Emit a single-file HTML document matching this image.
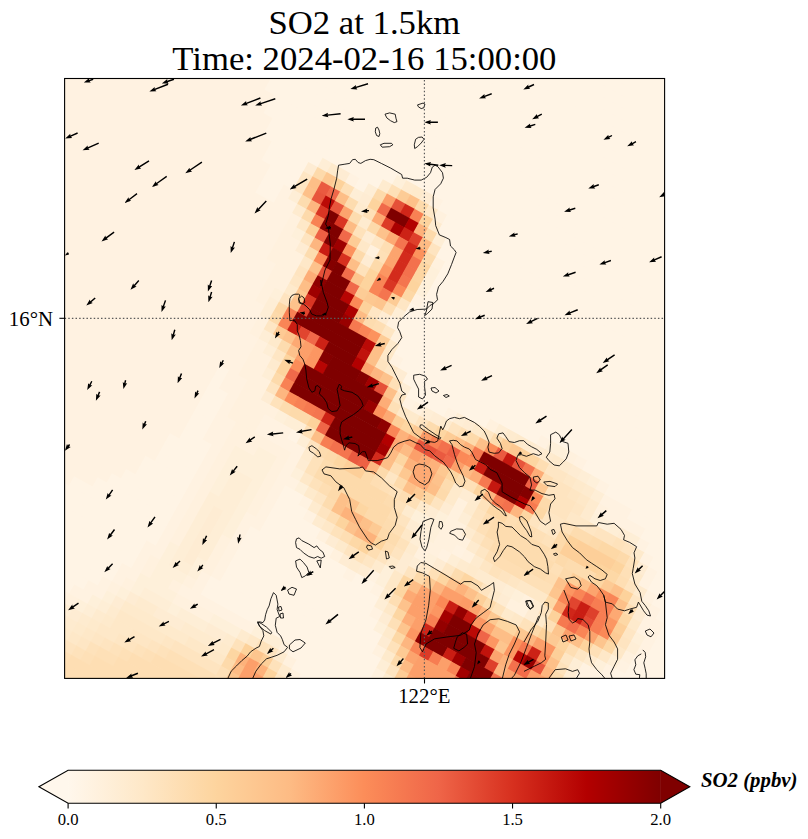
<!DOCTYPE html><html><head><meta charset="utf-8"><style>html,body{margin:0;padding:0;background:#fff;}svg{display:block;}text{font-family:"Liberation Serif",serif;fill:#000;}</style></head><body>
<svg width="808" height="839" viewBox="0 0 808 839">
<defs><clipPath id="mc"><rect x="64.6" y="78.5" width="600.0" height="599.9"/></clipPath><linearGradient id="cb" x1="0" x2="1" y1="0" y2="0"><stop offset="0.000" stop-color="#fff7ec"/><stop offset="0.125" stop-color="#fee8c8"/><stop offset="0.250" stop-color="#fdd49e"/><stop offset="0.375" stop-color="#fdbb84"/><stop offset="0.500" stop-color="#fc8d59"/><stop offset="0.625" stop-color="#ef6548"/><stop offset="0.750" stop-color="#d7301f"/><stop offset="0.875" stop-color="#b30000"/><stop offset="1.000" stop-color="#7f0000"/></linearGradient><filter id="bl" x="-50%" y="-50%" width="200%" height="200%"><feGaussianBlur stdDeviation="14"/></filter></defs>
<rect width="808" height="839" fill="#fff"/>
<g clip-path="url(#mc)">
<rect x="64.6" y="78.5" width="600.0" height="599.9" fill="#fff4e5"/>
<g transform="translate(67.60,76.50) rotate(29.0)"><rect x="504.0" y="-294.0" width="32.1" height="11.1" fill="#fff4e5"/><rect x="483.0" y="-283.5" width="53.1" height="11.1" fill="#fff4e5"/><rect x="462.0" y="-273.0" width="84.6" height="11.1" fill="#fff4e5"/><rect x="451.5" y="-262.5" width="105.6" height="11.1" fill="#fff4e5"/><rect x="430.5" y="-252.0" width="126.6" height="11.1" fill="#fff4e5"/><rect x="409.5" y="-241.5" width="158.1" height="11.1" fill="#fff4e5"/><rect x="388.5" y="-231.0" width="179.1" height="11.1" fill="#fff4e5"/><rect x="367.5" y="-220.5" width="210.6" height="11.1" fill="#fff4e5"/><rect x="357.0" y="-210.0" width="221.1" height="11.1" fill="#fff4e5"/><rect x="336.0" y="-199.5" width="252.6" height="11.1" fill="#fff4e5"/><rect x="315.0" y="-189.0" width="273.6" height="11.1" fill="#fff4e5"/><rect x="294.0" y="-178.5" width="305.1" height="11.1" fill="#fff4e5"/><rect x="273.0" y="-168.0" width="336.6" height="11.1" fill="#fff4e5"/><rect x="252.0" y="-157.5" width="357.6" height="11.1" fill="#fff4e5"/><rect x="241.5" y="-147.0" width="378.6" height="11.1" fill="#fff4e5"/><rect x="220.5" y="-136.5" width="399.6" height="11.1" fill="#fff4e5"/><rect x="199.5" y="-126.0" width="431.1" height="11.1" fill="#fff4e5"/><rect x="178.5" y="-115.5" width="452.1" height="11.1" fill="#fff4e5"/><rect x="157.5" y="-105.0" width="21.6" height="11.1" fill="#fff2e1"/><rect x="178.5" y="-105.0" width="462.6" height="11.1" fill="#fff4e5"/><rect x="147.0" y="-94.5" width="32.1" height="11.1" fill="#fff2e1"/><rect x="178.5" y="-94.5" width="462.6" height="11.1" fill="#fff4e5"/><rect x="126.0" y="-84.0" width="63.6" height="11.1" fill="#fff2e1"/><rect x="189.0" y="-84.0" width="462.6" height="11.1" fill="#fff4e5"/><rect x="105.0" y="-73.5" width="84.6" height="11.1" fill="#fff2e1"/><rect x="189.0" y="-73.5" width="147.6" height="11.1" fill="#fff4e5"/><rect x="336.0" y="-73.5" width="11.1" height="11.1" fill="#fef0da"/><rect x="346.5" y="-73.5" width="11.1" height="11.1" fill="#feebcf"/><rect x="357.0" y="-73.5" width="11.1" height="11.1" fill="#feeacc"/><rect x="367.5" y="-73.5" width="11.1" height="11.1" fill="#feecd3"/><rect x="378.0" y="-73.5" width="11.1" height="11.1" fill="#fff2e1"/><rect x="388.5" y="-73.5" width="273.6" height="11.1" fill="#fff4e5"/><rect x="84.0" y="-63.0" width="116.1" height="11.1" fill="#fff2e1"/><rect x="199.5" y="-63.0" width="126.6" height="11.1" fill="#fff4e5"/><rect x="325.5" y="-63.0" width="11.1" height="11.1" fill="#feebcf"/><rect x="336.0" y="-63.0" width="11.1" height="11.1" fill="#fee0b7"/><rect x="346.5" y="-63.0" width="11.1" height="11.1" fill="#fdcc96"/><rect x="357.0" y="-63.0" width="11.1" height="11.1" fill="#fdc089"/><rect x="367.5" y="-63.0" width="11.1" height="11.1" fill="#fddaab"/><rect x="378.0" y="-63.0" width="11.1" height="11.1" fill="#fee8c8"/><rect x="388.5" y="-63.0" width="11.1" height="11.1" fill="#fff1de"/><rect x="399.0" y="-63.0" width="263.1" height="11.1" fill="#fff4e5"/><rect x="63.0" y="-52.5" width="137.1" height="11.1" fill="#fff2e1"/><rect x="199.5" y="-52.5" width="63.6" height="11.1" fill="#fff4e5"/><rect x="262.5" y="-52.5" width="11.1" height="11.1" fill="#feeed6"/><rect x="273.0" y="-52.5" width="11.1" height="11.1" fill="#feeacc"/><rect x="283.5" y="-52.5" width="11.1" height="11.1" fill="#feecd3"/><rect x="294.0" y="-52.5" width="11.1" height="11.1" fill="#fff2e1"/><rect x="304.5" y="-52.5" width="11.1" height="11.1" fill="#fff4e5"/><rect x="315.0" y="-52.5" width="11.1" height="11.1" fill="#feeed6"/><rect x="325.5" y="-52.5" width="11.1" height="11.1" fill="#fddaab"/><rect x="336.0" y="-52.5" width="11.1" height="11.1" fill="#fc9f6a"/><rect x="346.5" y="-52.5" width="11.1" height="11.1" fill="#e55038"/><rect x="357.0" y="-52.5" width="11.1" height="11.1" fill="#d02619"/><rect x="367.5" y="-52.5" width="11.1" height="11.1" fill="#f88154"/><rect x="378.0" y="-52.5" width="11.1" height="11.1" fill="#fdd49e"/><rect x="388.5" y="-52.5" width="11.1" height="11.1" fill="#feebcf"/><rect x="399.0" y="-52.5" width="273.6" height="11.1" fill="#fff4e5"/><rect x="52.5" y="-42.0" width="158.1" height="11.1" fill="#fff2e1"/><rect x="210.0" y="-42.0" width="42.6" height="11.1" fill="#fff4e5"/><rect x="252.0" y="-42.0" width="11.1" height="11.1" fill="#feecd3"/><rect x="262.5" y="-42.0" width="11.1" height="11.1" fill="#fddaab"/><rect x="273.0" y="-42.0" width="11.1" height="11.1" fill="#fdc891"/><rect x="283.5" y="-42.0" width="11.1" height="11.1" fill="#fdd29b"/><rect x="294.0" y="-42.0" width="11.1" height="11.1" fill="#fee0b7"/><rect x="304.5" y="-42.0" width="11.1" height="11.1" fill="#feeed6"/><rect x="315.0" y="-42.0" width="11.1" height="11.1" fill="#feecd3"/><rect x="325.5" y="-42.0" width="11.1" height="11.1" fill="#fdd49e"/><rect x="336.0" y="-42.0" width="11.1" height="11.1" fill="#f0694a"/><rect x="346.5" y="-42.0" width="21.6" height="11.1" fill="#7f0000"/><rect x="367.5" y="-42.0" width="11.1" height="11.1" fill="#b30000"/><rect x="378.0" y="-42.0" width="11.1" height="11.1" fill="#fdb27b"/><rect x="388.5" y="-42.0" width="11.1" height="11.1" fill="#fddaab"/><rect x="399.0" y="-42.0" width="11.1" height="11.1" fill="#feeed6"/><rect x="409.5" y="-42.0" width="263.1" height="11.1" fill="#fff4e5"/><rect x="31.5" y="-31.5" width="179.1" height="11.1" fill="#fff2e1"/><rect x="210.0" y="-31.5" width="42.6" height="11.1" fill="#fff4e5"/><rect x="252.0" y="-31.5" width="11.1" height="11.1" fill="#fee6c4"/><rect x="262.5" y="-31.5" width="11.1" height="11.1" fill="#fdbe87"/><rect x="273.0" y="-31.5" width="11.1" height="11.1" fill="#ea5a40"/><rect x="283.5" y="-31.5" width="11.1" height="11.1" fill="#f0694a"/><rect x="294.0" y="-31.5" width="11.1" height="11.1" fill="#fdbe87"/><rect x="304.5" y="-31.5" width="11.1" height="11.1" fill="#fddcaf"/><rect x="315.0" y="-31.5" width="11.1" height="11.1" fill="#feebcf"/><rect x="325.5" y="-31.5" width="11.1" height="11.1" fill="#fee0b7"/><rect x="336.0" y="-31.5" width="11.1" height="11.1" fill="#fda973"/><rect x="346.5" y="-31.5" width="11.1" height="11.1" fill="#dc3b27"/><rect x="357.0" y="-31.5" width="11.1" height="11.1" fill="#a90000"/><rect x="367.5" y="-31.5" width="11.1" height="11.1" fill="#cc2216"/><rect x="378.0" y="-31.5" width="11.1" height="11.1" fill="#de402b"/><rect x="388.5" y="-31.5" width="11.1" height="11.1" fill="#fdbb84"/><rect x="399.0" y="-31.5" width="11.1" height="11.1" fill="#fee4c0"/><rect x="409.5" y="-31.5" width="273.6" height="11.1" fill="#fff4e5"/><rect x="10.5" y="-21.0" width="210.6" height="11.1" fill="#fff2e1"/><rect x="220.5" y="-21.0" width="32.1" height="11.1" fill="#fff4e5"/><rect x="252.0" y="-21.0" width="11.1" height="11.1" fill="#fee6c4"/><rect x="262.5" y="-21.0" width="11.1" height="11.1" fill="#fdc089"/><rect x="273.0" y="-21.0" width="11.1" height="11.1" fill="#e8553c"/><rect x="283.5" y="-21.0" width="11.1" height="11.1" fill="#ba0a06"/><rect x="294.0" y="-21.0" width="11.1" height="11.1" fill="#e8553c"/><rect x="304.5" y="-21.0" width="11.1" height="11.1" fill="#fca46e"/><rect x="315.0" y="-21.0" width="11.1" height="11.1" fill="#fddcaf"/><rect x="325.5" y="-21.0" width="11.1" height="11.1" fill="#feebcf"/><rect x="336.0" y="-21.0" width="11.1" height="11.1" fill="#fddaab"/><rect x="346.5" y="-21.0" width="11.1" height="11.1" fill="#fdc28c"/><rect x="357.0" y="-21.0" width="11.1" height="11.1" fill="#fda973"/><rect x="367.5" y="-21.0" width="11.1" height="11.1" fill="#f4754f"/><rect x="378.0" y="-21.0" width="11.1" height="11.1" fill="#d02619"/><rect x="388.5" y="-21.0" width="11.1" height="11.1" fill="#fc925d"/><rect x="399.0" y="-21.0" width="11.1" height="11.1" fill="#fddcaf"/><rect x="409.5" y="-21.0" width="11.1" height="11.1" fill="#fff1de"/><rect x="420.0" y="-21.0" width="263.1" height="11.1" fill="#fff4e5"/><rect x="-10.5" y="-10.5" width="231.6" height="11.1" fill="#fff2e1"/><rect x="220.5" y="-10.5" width="21.6" height="11.1" fill="#fff4e5"/><rect x="241.5" y="-10.5" width="11.1" height="11.1" fill="#fff2e1"/><rect x="252.0" y="-10.5" width="11.1" height="11.1" fill="#feeed6"/><rect x="262.5" y="-10.5" width="11.1" height="11.1" fill="#fddcaf"/><rect x="273.0" y="-10.5" width="11.1" height="11.1" fill="#fdb680"/><rect x="283.5" y="-10.5" width="11.1" height="11.1" fill="#d93523"/><rect x="294.0" y="-10.5" width="11.1" height="11.1" fill="#7f0000"/><rect x="304.5" y="-10.5" width="11.1" height="11.1" fill="#d93523"/><rect x="315.0" y="-10.5" width="11.1" height="11.1" fill="#fdbb84"/><rect x="325.5" y="-10.5" width="11.1" height="11.1" fill="#fee2bb"/><rect x="336.0" y="-10.5" width="11.1" height="11.1" fill="#feecd3"/><rect x="346.5" y="-10.5" width="11.1" height="11.1" fill="#fee6c4"/><rect x="357.0" y="-10.5" width="11.1" height="11.1" fill="#fedeb3"/><rect x="367.5" y="-10.5" width="11.1" height="11.1" fill="#fca46e"/><rect x="378.0" y="-10.5" width="11.1" height="11.1" fill="#d32b1c"/><rect x="388.5" y="-10.5" width="11.1" height="11.1" fill="#f3714d"/><rect x="399.0" y="-10.5" width="11.1" height="11.1" fill="#fdd6a2"/><rect x="409.5" y="-10.5" width="11.1" height="11.1" fill="#fef0da"/><rect x="420.0" y="-10.5" width="273.6" height="11.1" fill="#fff4e5"/><rect x="-10.5" y="0.0" width="231.6" height="11.1" fill="#fff2e1"/><rect x="220.5" y="0.0" width="21.6" height="11.1" fill="#fff4e5"/><rect x="241.5" y="0.0" width="21.6" height="11.1" fill="#fff2e1"/><rect x="262.5" y="0.0" width="11.1" height="11.1" fill="#feebcf"/><rect x="273.0" y="0.0" width="11.1" height="11.1" fill="#fddaab"/><rect x="283.5" y="0.0" width="11.1" height="11.1" fill="#f88154"/><rect x="294.0" y="0.0" width="11.1" height="11.1" fill="#840000"/><rect x="304.5" y="0.0" width="11.1" height="11.1" fill="#7f0000"/><rect x="315.0" y="0.0" width="11.1" height="11.1" fill="#f0694a"/><rect x="325.5" y="0.0" width="11.1" height="11.1" fill="#fdcc96"/><rect x="336.0" y="0.0" width="11.1" height="11.1" fill="#fee8c8"/><rect x="346.5" y="0.0" width="11.1" height="11.1" fill="#fff1de"/><rect x="357.0" y="0.0" width="11.1" height="11.1" fill="#fee0b7"/><rect x="367.5" y="0.0" width="11.1" height="11.1" fill="#fca46e"/><rect x="378.0" y="0.0" width="11.1" height="11.1" fill="#d32b1c"/><rect x="388.5" y="0.0" width="11.1" height="11.1" fill="#f3714d"/><rect x="399.0" y="0.0" width="11.1" height="11.1" fill="#fdd6a2"/><rect x="409.5" y="0.0" width="11.1" height="11.1" fill="#fef0da"/><rect x="420.0" y="0.0" width="273.6" height="11.1" fill="#fff4e5"/><rect x="-10.5" y="10.5" width="273.6" height="11.1" fill="#fff2e1"/><rect x="262.5" y="10.5" width="11.1" height="11.1" fill="#fff1de"/><rect x="273.0" y="10.5" width="11.1" height="11.1" fill="#fee8c8"/><rect x="283.5" y="10.5" width="11.1" height="11.1" fill="#fdcf99"/><rect x="294.0" y="10.5" width="11.1" height="11.1" fill="#ed6044"/><rect x="304.5" y="10.5" width="11.1" height="11.1" fill="#7f0000"/><rect x="315.0" y="10.5" width="11.1" height="11.1" fill="#9e0000"/><rect x="325.5" y="10.5" width="11.1" height="11.1" fill="#fc925d"/><rect x="336.0" y="10.5" width="11.1" height="11.1" fill="#fddaab"/><rect x="346.5" y="10.5" width="11.1" height="11.1" fill="#feecd3"/><rect x="357.0" y="10.5" width="11.1" height="11.1" fill="#fddaab"/><rect x="367.5" y="10.5" width="11.1" height="11.1" fill="#fc9662"/><rect x="378.0" y="10.5" width="11.1" height="11.1" fill="#d32b1c"/><rect x="388.5" y="10.5" width="11.1" height="11.1" fill="#f4754f"/><rect x="399.0" y="10.5" width="11.1" height="11.1" fill="#fdd49e"/><rect x="409.5" y="10.5" width="11.1" height="11.1" fill="#fef0da"/><rect x="420.0" y="10.5" width="284.1" height="11.1" fill="#fff4e5"/><rect x="0.0" y="21.0" width="263.1" height="11.1" fill="#fff2e1"/><rect x="262.5" y="21.0" width="11.1" height="11.1" fill="#fff1de"/><rect x="273.0" y="21.0" width="11.1" height="11.1" fill="#fef0da"/><rect x="283.5" y="21.0" width="11.1" height="11.1" fill="#fee4c0"/><rect x="294.0" y="21.0" width="11.1" height="11.1" fill="#fdb680"/><rect x="304.5" y="21.0" width="11.1" height="11.1" fill="#c91d13"/><rect x="315.0" y="21.0" width="11.1" height="11.1" fill="#7f0000"/><rect x="325.5" y="21.0" width="11.1" height="11.1" fill="#d7301f"/><rect x="336.0" y="21.0" width="11.1" height="11.1" fill="#fdbe87"/><rect x="346.5" y="21.0" width="11.1" height="11.1" fill="#fee2bb"/><rect x="357.0" y="21.0" width="11.1" height="11.1" fill="#fdd49e"/><rect x="367.5" y="21.0" width="11.1" height="11.1" fill="#f98556"/><rect x="378.0" y="21.0" width="11.1" height="11.1" fill="#d93523"/><rect x="388.5" y="21.0" width="11.1" height="11.1" fill="#fb8957"/><rect x="399.0" y="21.0" width="11.1" height="11.1" fill="#fdd8a6"/><rect x="409.5" y="21.0" width="11.1" height="11.1" fill="#fff2e1"/><rect x="420.0" y="21.0" width="294.6" height="11.1" fill="#fff4e5"/><rect x="0.0" y="31.5" width="263.1" height="11.1" fill="#fff2e1"/><rect x="262.5" y="31.5" width="21.6" height="11.1" fill="#fff1de"/><rect x="283.5" y="31.5" width="11.1" height="11.1" fill="#feecd3"/><rect x="294.0" y="31.5" width="11.1" height="11.1" fill="#fddcaf"/><rect x="304.5" y="31.5" width="11.1" height="11.1" fill="#fb8957"/><rect x="315.0" y="31.5" width="11.1" height="11.1" fill="#840000"/><rect x="325.5" y="31.5" width="11.1" height="11.1" fill="#7f0000"/><rect x="336.0" y="31.5" width="11.1" height="11.1" fill="#f26d4b"/><rect x="346.5" y="31.5" width="11.1" height="11.1" fill="#fdc58e"/><rect x="357.0" y="31.5" width="11.1" height="11.1" fill="#fdd49e"/><rect x="367.5" y="31.5" width="11.1" height="11.1" fill="#f98556"/><rect x="378.0" y="31.5" width="11.1" height="11.1" fill="#f4754f"/><rect x="388.5" y="31.5" width="11.1" height="11.1" fill="#fdcc96"/><rect x="399.0" y="31.5" width="11.1" height="11.1" fill="#fee6c4"/><rect x="409.5" y="31.5" width="305.1" height="11.1" fill="#fff4e5"/><rect x="10.5" y="42.0" width="252.6" height="11.1" fill="#fff2e1"/><rect x="262.5" y="42.0" width="32.1" height="11.1" fill="#fff1de"/><rect x="294.0" y="42.0" width="11.1" height="11.1" fill="#fee8c8"/><rect x="304.5" y="42.0" width="11.1" height="11.1" fill="#fdc28c"/><rect x="315.0" y="42.0" width="11.1" height="11.1" fill="#e55038"/><rect x="325.5" y="42.0" width="21.6" height="11.1" fill="#7f0000"/><rect x="346.5" y="42.0" width="11.1" height="11.1" fill="#f0694a"/><rect x="357.0" y="42.0" width="11.1" height="11.1" fill="#fdcc96"/><rect x="367.5" y="42.0" width="11.1" height="11.1" fill="#fdc891"/><rect x="378.0" y="42.0" width="11.1" height="11.1" fill="#fdc58e"/><rect x="388.5" y="42.0" width="11.1" height="11.1" fill="#fedeb3"/><rect x="399.0" y="42.0" width="11.1" height="11.1" fill="#feeed6"/><rect x="409.5" y="42.0" width="315.6" height="11.1" fill="#fff4e5"/><rect x="21.0" y="52.5" width="242.1" height="11.1" fill="#fff2e1"/><rect x="262.5" y="52.5" width="32.1" height="11.1" fill="#fff1de"/><rect x="294.0" y="52.5" width="11.1" height="11.1" fill="#fee4c0"/><rect x="304.5" y="52.5" width="11.1" height="11.1" fill="#fdad77"/><rect x="315.0" y="52.5" width="11.1" height="11.1" fill="#8f0000"/><rect x="325.5" y="52.5" width="21.6" height="11.1" fill="#7f0000"/><rect x="346.5" y="52.5" width="11.1" height="11.1" fill="#b70503"/><rect x="357.0" y="52.5" width="11.1" height="11.1" fill="#fb8957"/><rect x="367.5" y="52.5" width="11.1" height="11.1" fill="#fdd29b"/><rect x="378.0" y="52.5" width="11.1" height="11.1" fill="#fee6c4"/><rect x="388.5" y="52.5" width="11.1" height="11.1" fill="#feecd3"/><rect x="399.0" y="52.5" width="11.1" height="11.1" fill="#fff2e1"/><rect x="409.5" y="52.5" width="315.6" height="11.1" fill="#fff4e5"/><rect x="21.0" y="63.0" width="252.6" height="11.1" fill="#fff2e1"/><rect x="273.0" y="63.0" width="21.6" height="11.1" fill="#fff1de"/><rect x="294.0" y="63.0" width="11.1" height="11.1" fill="#fee6c4"/><rect x="304.5" y="63.0" width="11.1" height="11.1" fill="#fdbe87"/><rect x="315.0" y="63.0" width="11.1" height="11.1" fill="#9e0000"/><rect x="325.5" y="63.0" width="32.1" height="11.1" fill="#7f0000"/><rect x="357.0" y="63.0" width="11.1" height="11.1" fill="#ae0000"/><rect x="367.5" y="63.0" width="11.1" height="11.1" fill="#fdbb84"/><rect x="378.0" y="63.0" width="11.1" height="11.1" fill="#fddcaf"/><rect x="388.5" y="63.0" width="11.1" height="11.1" fill="#fedeb3"/><rect x="399.0" y="63.0" width="11.1" height="11.1" fill="#fee6c4"/><rect x="409.5" y="63.0" width="11.1" height="11.1" fill="#fff1de"/><rect x="420.0" y="63.0" width="315.6" height="11.1" fill="#fff4e5"/><rect x="31.5" y="73.5" width="242.1" height="11.1" fill="#fff2e1"/><rect x="273.0" y="73.5" width="21.6" height="11.1" fill="#fff1de"/><rect x="294.0" y="73.5" width="11.1" height="11.1" fill="#feeacc"/><rect x="304.5" y="73.5" width="11.1" height="11.1" fill="#fdc891"/><rect x="315.0" y="73.5" width="11.1" height="11.1" fill="#d93523"/><rect x="325.5" y="73.5" width="32.1" height="11.1" fill="#7f0000"/><rect x="357.0" y="73.5" width="11.1" height="11.1" fill="#990000"/><rect x="367.5" y="73.5" width="11.1" height="11.1" fill="#f67950"/><rect x="378.0" y="73.5" width="11.1" height="11.1" fill="#f98556"/><rect x="388.5" y="73.5" width="11.1" height="11.1" fill="#fc925d"/><rect x="399.0" y="73.5" width="11.1" height="11.1" fill="#fdcc96"/><rect x="409.5" y="73.5" width="11.1" height="11.1" fill="#feeacc"/><rect x="420.0" y="73.5" width="315.6" height="11.1" fill="#fff4e5"/><rect x="31.5" y="84.0" width="242.1" height="11.1" fill="#fff2e1"/><rect x="273.0" y="84.0" width="11.1" height="11.1" fill="#fff1de"/><rect x="283.5" y="84.0" width="11.1" height="11.1" fill="#fef0da"/><rect x="294.0" y="84.0" width="11.1" height="11.1" fill="#fee4c0"/><rect x="304.5" y="84.0" width="11.1" height="11.1" fill="#fdc28c"/><rect x="315.0" y="84.0" width="11.1" height="11.1" fill="#e1452f"/><rect x="325.5" y="84.0" width="63.6" height="11.1" fill="#7f0000"/><rect x="388.5" y="84.0" width="11.1" height="11.1" fill="#ba0a06"/><rect x="399.0" y="84.0" width="11.1" height="11.1" fill="#fdc089"/><rect x="409.5" y="84.0" width="11.1" height="11.1" fill="#fee8c8"/><rect x="420.0" y="84.0" width="11.1" height="11.1" fill="#fff2e1"/><rect x="430.5" y="84.0" width="158.1" height="11.1" fill="#fff4e5"/><rect x="588.0" y="84.0" width="11.1" height="11.1" fill="#fff2e1"/><rect x="598.5" y="84.0" width="21.6" height="11.1" fill="#fef0da"/><rect x="619.5" y="84.0" width="11.1" height="11.1" fill="#fff1de"/><rect x="630.0" y="84.0" width="11.1" height="11.1" fill="#fff2e1"/><rect x="640.5" y="84.0" width="105.6" height="11.1" fill="#fff4e5"/><rect x="42.0" y="94.5" width="231.6" height="11.1" fill="#fff2e1"/><rect x="273.0" y="94.5" width="11.1" height="11.1" fill="#fff1de"/><rect x="283.5" y="94.5" width="11.1" height="11.1" fill="#feeed6"/><rect x="294.0" y="94.5" width="11.1" height="11.1" fill="#fdd8a6"/><rect x="304.5" y="94.5" width="11.1" height="11.1" fill="#f88154"/><rect x="315.0" y="94.5" width="74.1" height="11.1" fill="#7f0000"/><rect x="388.5" y="94.5" width="11.1" height="11.1" fill="#c1130c"/><rect x="399.0" y="94.5" width="11.1" height="11.1" fill="#fdc089"/><rect x="409.5" y="94.5" width="11.1" height="11.1" fill="#fee4c0"/><rect x="420.0" y="94.5" width="11.1" height="11.1" fill="#fee8c8"/><rect x="430.5" y="94.5" width="11.1" height="11.1" fill="#feecd3"/><rect x="441.0" y="94.5" width="95.1" height="11.1" fill="#fff4e5"/><rect x="535.5" y="94.5" width="11.1" height="11.1" fill="#fff1de"/><rect x="546.0" y="94.5" width="11.1" height="11.1" fill="#feeed6"/><rect x="556.5" y="94.5" width="11.1" height="11.1" fill="#feebcf"/><rect x="567.0" y="94.5" width="11.1" height="11.1" fill="#feeacc"/><rect x="577.5" y="94.5" width="11.1" height="11.1" fill="#feebcf"/><rect x="588.0" y="94.5" width="11.1" height="11.1" fill="#feecd3"/><rect x="598.5" y="94.5" width="11.1" height="11.1" fill="#feebcf"/><rect x="609.0" y="94.5" width="11.1" height="11.1" fill="#feeacc"/><rect x="619.5" y="94.5" width="11.1" height="11.1" fill="#feebcf"/><rect x="630.0" y="94.5" width="11.1" height="11.1" fill="#feecd3"/><rect x="640.5" y="94.5" width="11.1" height="11.1" fill="#feeed6"/><rect x="651.0" y="94.5" width="11.1" height="11.1" fill="#fef0da"/><rect x="661.5" y="94.5" width="11.1" height="11.1" fill="#fff2e1"/><rect x="672.0" y="94.5" width="74.1" height="11.1" fill="#fff4e5"/><rect x="42.0" y="105.0" width="242.1" height="11.1" fill="#fff2e1"/><rect x="283.5" y="105.0" width="11.1" height="11.1" fill="#feeed6"/><rect x="294.0" y="105.0" width="11.1" height="11.1" fill="#fddaab"/><rect x="304.5" y="105.0" width="11.1" height="11.1" fill="#f98556"/><rect x="315.0" y="105.0" width="11.1" height="11.1" fill="#c91d13"/><rect x="325.5" y="105.0" width="11.1" height="11.1" fill="#e1452f"/><rect x="336.0" y="105.0" width="11.1" height="11.1" fill="#f0694a"/><rect x="346.5" y="105.0" width="11.1" height="11.1" fill="#cc2216"/><rect x="357.0" y="105.0" width="32.1" height="11.1" fill="#7f0000"/><rect x="388.5" y="105.0" width="11.1" height="11.1" fill="#b30000"/><rect x="399.0" y="105.0" width="11.1" height="11.1" fill="#fca46e"/><rect x="409.5" y="105.0" width="11.1" height="11.1" fill="#fdb680"/><rect x="420.0" y="105.0" width="11.1" height="11.1" fill="#fdc28c"/><rect x="430.5" y="105.0" width="11.1" height="11.1" fill="#fee0b7"/><rect x="441.0" y="105.0" width="11.1" height="11.1" fill="#feeed6"/><rect x="451.5" y="105.0" width="42.6" height="11.1" fill="#fff4e5"/><rect x="493.5" y="105.0" width="11.1" height="11.1" fill="#fff2e1"/><rect x="504.0" y="105.0" width="11.1" height="11.1" fill="#feeed6"/><rect x="514.5" y="105.0" width="11.1" height="11.1" fill="#feecd3"/><rect x="525.0" y="105.0" width="11.1" height="11.1" fill="#feeacc"/><rect x="535.5" y="105.0" width="11.1" height="11.1" fill="#fee6c4"/><rect x="546.0" y="105.0" width="11.1" height="11.1" fill="#fddcaf"/><rect x="556.5" y="105.0" width="11.1" height="11.1" fill="#fdcf99"/><rect x="567.0" y="105.0" width="11.1" height="11.1" fill="#fdc891"/><rect x="577.5" y="105.0" width="11.1" height="11.1" fill="#fdd29b"/><rect x="588.0" y="105.0" width="11.1" height="11.1" fill="#fdd6a2"/><rect x="598.5" y="105.0" width="11.1" height="11.1" fill="#fedeb3"/><rect x="609.0" y="105.0" width="21.6" height="11.1" fill="#fee6c4"/><rect x="630.0" y="105.0" width="11.1" height="11.1" fill="#fee8c8"/><rect x="640.5" y="105.0" width="11.1" height="11.1" fill="#feeacc"/><rect x="651.0" y="105.0" width="11.1" height="11.1" fill="#feebcf"/><rect x="661.5" y="105.0" width="11.1" height="11.1" fill="#feeed6"/><rect x="672.0" y="105.0" width="32.1" height="11.1" fill="#fff2e1"/><rect x="703.5" y="105.0" width="53.1" height="11.1" fill="#fff4e5"/><rect x="52.5" y="115.5" width="231.6" height="11.1" fill="#fff2e1"/><rect x="283.5" y="115.5" width="11.1" height="11.1" fill="#fff1de"/><rect x="294.0" y="115.5" width="11.1" height="11.1" fill="#fee6c4"/><rect x="304.5" y="115.5" width="11.1" height="11.1" fill="#fdca94"/><rect x="315.0" y="115.5" width="11.1" height="11.1" fill="#fdc28c"/><rect x="325.5" y="115.5" width="11.1" height="11.1" fill="#fda973"/><rect x="336.0" y="115.5" width="11.1" height="11.1" fill="#fc9f6a"/><rect x="346.5" y="115.5" width="11.1" height="11.1" fill="#fc9662"/><rect x="357.0" y="115.5" width="11.1" height="11.1" fill="#840000"/><rect x="367.5" y="115.5" width="32.1" height="11.1" fill="#7f0000"/><rect x="399.0" y="115.5" width="11.1" height="11.1" fill="#840000"/><rect x="409.5" y="115.5" width="11.1" height="11.1" fill="#a30000"/><rect x="420.0" y="115.5" width="11.1" height="11.1" fill="#e55038"/><rect x="430.5" y="115.5" width="11.1" height="11.1" fill="#fdc089"/><rect x="441.0" y="115.5" width="11.1" height="11.1" fill="#fee6c4"/><rect x="451.5" y="115.5" width="11.1" height="11.1" fill="#fff2e1"/><rect x="462.0" y="115.5" width="11.1" height="11.1" fill="#fff1de"/><rect x="472.5" y="115.5" width="11.1" height="11.1" fill="#feeed6"/><rect x="483.0" y="115.5" width="11.1" height="11.1" fill="#feecd3"/><rect x="493.5" y="115.5" width="11.1" height="11.1" fill="#feebcf"/><rect x="504.0" y="115.5" width="11.1" height="11.1" fill="#fee4c0"/><rect x="514.5" y="115.5" width="11.1" height="11.1" fill="#fee0b7"/><rect x="525.0" y="115.5" width="11.1" height="11.1" fill="#fddaab"/><rect x="535.5" y="115.5" width="11.1" height="11.1" fill="#fdc089"/><rect x="546.0" y="115.5" width="11.1" height="11.1" fill="#fc8d59"/><rect x="556.5" y="115.5" width="11.1" height="11.1" fill="#ea5a40"/><rect x="567.0" y="115.5" width="11.1" height="11.1" fill="#c51810"/><rect x="577.5" y="115.5" width="11.1" height="11.1" fill="#e8553c"/><rect x="588.0" y="115.5" width="11.1" height="11.1" fill="#f4754f"/><rect x="598.5" y="115.5" width="11.1" height="11.1" fill="#fdad77"/><rect x="609.0" y="115.5" width="11.1" height="11.1" fill="#fedeb3"/><rect x="619.5" y="115.5" width="21.6" height="11.1" fill="#fee4c0"/><rect x="640.5" y="115.5" width="11.1" height="11.1" fill="#fee6c4"/><rect x="651.0" y="115.5" width="11.1" height="11.1" fill="#fee8c8"/><rect x="661.5" y="115.5" width="11.1" height="11.1" fill="#feebcf"/><rect x="672.0" y="115.5" width="11.1" height="11.1" fill="#fff1de"/><rect x="682.5" y="115.5" width="42.6" height="11.1" fill="#fff2e1"/><rect x="724.5" y="115.5" width="42.6" height="11.1" fill="#fff4e5"/><rect x="52.5" y="126.0" width="231.6" height="11.1" fill="#fff2e1"/><rect x="283.5" y="126.0" width="11.1" height="11.1" fill="#fff1de"/><rect x="294.0" y="126.0" width="11.1" height="11.1" fill="#feeed6"/><rect x="304.5" y="126.0" width="11.1" height="11.1" fill="#feeacc"/><rect x="315.0" y="126.0" width="11.1" height="11.1" fill="#fddcaf"/><rect x="325.5" y="126.0" width="11.1" height="11.1" fill="#fdc28c"/><rect x="336.0" y="126.0" width="11.1" height="11.1" fill="#fc9f6a"/><rect x="346.5" y="126.0" width="11.1" height="11.1" fill="#fc9662"/><rect x="357.0" y="126.0" width="11.1" height="11.1" fill="#b70503"/><rect x="367.5" y="126.0" width="63.6" height="11.1" fill="#7f0000"/><rect x="430.5" y="126.0" width="11.1" height="11.1" fill="#fdad77"/><rect x="441.0" y="126.0" width="11.1" height="11.1" fill="#fee0b7"/><rect x="451.5" y="126.0" width="11.1" height="11.1" fill="#fee8c8"/><rect x="462.0" y="126.0" width="11.1" height="11.1" fill="#feeacc"/><rect x="472.5" y="126.0" width="11.1" height="11.1" fill="#fee4c0"/><rect x="483.0" y="126.0" width="11.1" height="11.1" fill="#fddcaf"/><rect x="493.5" y="126.0" width="11.1" height="11.1" fill="#fdd6a2"/><rect x="504.0" y="126.0" width="11.1" height="11.1" fill="#fdcc96"/><rect x="514.5" y="126.0" width="11.1" height="11.1" fill="#fdc089"/><rect x="525.0" y="126.0" width="11.1" height="11.1" fill="#fdb27b"/><rect x="535.5" y="126.0" width="11.1" height="11.1" fill="#f67950"/><rect x="546.0" y="126.0" width="53.1" height="11.1" fill="#7f0000"/><rect x="598.5" y="126.0" width="11.1" height="11.1" fill="#ed6044"/><rect x="609.0" y="126.0" width="11.1" height="11.1" fill="#fdc891"/><rect x="619.5" y="126.0" width="32.1" height="11.1" fill="#fee4c0"/><rect x="651.0" y="126.0" width="11.1" height="11.1" fill="#fee6c4"/><rect x="661.5" y="126.0" width="11.1" height="11.1" fill="#feebcf"/><rect x="672.0" y="126.0" width="21.6" height="11.1" fill="#fef0da"/><rect x="693.0" y="126.0" width="11.1" height="11.1" fill="#feeed6"/><rect x="703.5" y="126.0" width="11.1" height="11.1" fill="#feecd3"/><rect x="714.0" y="126.0" width="11.1" height="11.1" fill="#feeed6"/><rect x="724.5" y="126.0" width="11.1" height="11.1" fill="#fff2e1"/><rect x="735.0" y="126.0" width="32.1" height="11.1" fill="#fff4e5"/><rect x="63.0" y="136.5" width="231.6" height="11.1" fill="#fff2e1"/><rect x="294.0" y="136.5" width="11.1" height="11.1" fill="#fff1de"/><rect x="304.5" y="136.5" width="11.1" height="11.1" fill="#feeed6"/><rect x="315.0" y="136.5" width="11.1" height="11.1" fill="#fee6c4"/><rect x="325.5" y="136.5" width="11.1" height="11.1" fill="#fdd49e"/><rect x="336.0" y="136.5" width="11.1" height="11.1" fill="#fc8d59"/><rect x="346.5" y="136.5" width="74.1" height="11.1" fill="#7f0000"/><rect x="420.0" y="136.5" width="11.1" height="11.1" fill="#990000"/><rect x="430.5" y="136.5" width="11.1" height="11.1" fill="#fc925d"/><rect x="441.0" y="136.5" width="11.1" height="11.1" fill="#fda973"/><rect x="451.5" y="136.5" width="11.1" height="11.1" fill="#fdcf99"/><rect x="462.0" y="136.5" width="11.1" height="11.1" fill="#fdd6a2"/><rect x="472.5" y="136.5" width="11.1" height="11.1" fill="#fdca94"/><rect x="483.0" y="136.5" width="11.1" height="11.1" fill="#fc9b66"/><rect x="493.5" y="136.5" width="11.1" height="11.1" fill="#f88154"/><rect x="504.0" y="136.5" width="11.1" height="11.1" fill="#f3714d"/><rect x="514.5" y="136.5" width="11.1" height="11.1" fill="#ed6044"/><rect x="525.0" y="136.5" width="11.1" height="11.1" fill="#fb8957"/><rect x="535.5" y="136.5" width="11.1" height="11.1" fill="#fc8d59"/><rect x="546.0" y="136.5" width="11.1" height="11.1" fill="#c91d13"/><rect x="556.5" y="136.5" width="42.6" height="11.1" fill="#7f0000"/><rect x="598.5" y="136.5" width="11.1" height="11.1" fill="#840000"/><rect x="609.0" y="136.5" width="11.1" height="11.1" fill="#fb8957"/><rect x="619.5" y="136.5" width="11.1" height="11.1" fill="#fddaab"/><rect x="630.0" y="136.5" width="21.6" height="11.1" fill="#fee4c0"/><rect x="651.0" y="136.5" width="21.6" height="11.1" fill="#fee8c8"/><rect x="672.0" y="136.5" width="11.1" height="11.1" fill="#fee6c4"/><rect x="682.5" y="136.5" width="21.6" height="11.1" fill="#fee4c0"/><rect x="703.5" y="136.5" width="11.1" height="11.1" fill="#fee2bb"/><rect x="714.0" y="136.5" width="11.1" height="11.1" fill="#fee4c0"/><rect x="724.5" y="136.5" width="11.1" height="11.1" fill="#feeacc"/><rect x="735.0" y="136.5" width="11.1" height="11.1" fill="#fff2e1"/><rect x="745.5" y="136.5" width="32.1" height="11.1" fill="#fff4e5"/><rect x="73.5" y="147.0" width="221.1" height="11.1" fill="#fff2e1"/><rect x="294.0" y="147.0" width="21.6" height="11.1" fill="#fff1de"/><rect x="315.0" y="147.0" width="11.1" height="11.1" fill="#feebcf"/><rect x="325.5" y="147.0" width="11.1" height="11.1" fill="#fdd49e"/><rect x="336.0" y="147.0" width="11.1" height="11.1" fill="#f0694a"/><rect x="346.5" y="147.0" width="95.1" height="11.1" fill="#7f0000"/><rect x="441.0" y="147.0" width="11.1" height="11.1" fill="#8f0000"/><rect x="451.5" y="147.0" width="11.1" height="11.1" fill="#f98556"/><rect x="462.0" y="147.0" width="11.1" height="11.1" fill="#fdb27b"/><rect x="472.5" y="147.0" width="11.1" height="11.1" fill="#fc9f6a"/><rect x="483.0" y="147.0" width="11.1" height="11.1" fill="#e8553c"/><rect x="493.5" y="147.0" width="11.1" height="11.1" fill="#e55038"/><rect x="504.0" y="147.0" width="11.1" height="11.1" fill="#ea5a40"/><rect x="514.5" y="147.0" width="11.1" height="11.1" fill="#f0694a"/><rect x="525.0" y="147.0" width="11.1" height="11.1" fill="#fc9f6a"/><rect x="535.5" y="147.0" width="11.1" height="11.1" fill="#fdbb84"/><rect x="546.0" y="147.0" width="11.1" height="11.1" fill="#fdad77"/><rect x="556.5" y="147.0" width="11.1" height="11.1" fill="#f67950"/><rect x="567.0" y="147.0" width="11.1" height="11.1" fill="#c51810"/><rect x="577.5" y="147.0" width="21.6" height="11.1" fill="#7f0000"/><rect x="598.5" y="147.0" width="11.1" height="11.1" fill="#ae0000"/><rect x="609.0" y="147.0" width="11.1" height="11.1" fill="#f67950"/><rect x="619.5" y="147.0" width="11.1" height="11.1" fill="#fdd8a6"/><rect x="630.0" y="147.0" width="21.6" height="11.1" fill="#fee6c4"/><rect x="651.0" y="147.0" width="11.1" height="11.1" fill="#fee2bb"/><rect x="661.5" y="147.0" width="21.6" height="11.1" fill="#fddcaf"/><rect x="682.5" y="147.0" width="11.1" height="11.1" fill="#fddaab"/><rect x="693.0" y="147.0" width="21.6" height="11.1" fill="#fdd8a6"/><rect x="714.0" y="147.0" width="11.1" height="11.1" fill="#fddaab"/><rect x="724.5" y="147.0" width="11.1" height="11.1" fill="#fee2bb"/><rect x="735.0" y="147.0" width="11.1" height="11.1" fill="#feecd3"/><rect x="745.5" y="147.0" width="11.1" height="11.1" fill="#fff2e1"/><rect x="756.0" y="147.0" width="21.6" height="11.1" fill="#fff4e5"/><rect x="73.5" y="157.5" width="221.1" height="11.1" fill="#fff2e1"/><rect x="294.0" y="157.5" width="21.6" height="11.1" fill="#fff1de"/><rect x="315.0" y="157.5" width="11.1" height="11.1" fill="#feeed6"/><rect x="325.5" y="157.5" width="11.1" height="11.1" fill="#fddaab"/><rect x="336.0" y="157.5" width="11.1" height="11.1" fill="#f88154"/><rect x="346.5" y="157.5" width="105.6" height="11.1" fill="#7f0000"/><rect x="451.5" y="157.5" width="11.1" height="11.1" fill="#b30000"/><rect x="462.0" y="157.5" width="11.1" height="11.1" fill="#fda973"/><rect x="472.5" y="157.5" width="11.1" height="11.1" fill="#fdbb84"/><rect x="483.0" y="157.5" width="11.1" height="11.1" fill="#fc9f6a"/><rect x="493.5" y="157.5" width="11.1" height="11.1" fill="#fda973"/><rect x="504.0" y="157.5" width="11.1" height="11.1" fill="#fdb27b"/><rect x="514.5" y="157.5" width="11.1" height="11.1" fill="#fdc891"/><rect x="525.0" y="157.5" width="11.1" height="11.1" fill="#fdd6a2"/><rect x="535.5" y="157.5" width="11.1" height="11.1" fill="#fddcaf"/><rect x="546.0" y="157.5" width="11.1" height="11.1" fill="#fee0b7"/><rect x="556.5" y="157.5" width="11.1" height="11.1" fill="#fdd49e"/><rect x="567.0" y="157.5" width="11.1" height="11.1" fill="#fdb680"/><rect x="577.5" y="157.5" width="11.1" height="11.1" fill="#f67950"/><rect x="588.0" y="157.5" width="11.1" height="11.1" fill="#f3714d"/><rect x="598.5" y="157.5" width="11.1" height="11.1" fill="#fdb680"/><rect x="609.0" y="157.5" width="11.1" height="11.1" fill="#fdd6a2"/><rect x="619.5" y="157.5" width="11.1" height="11.1" fill="#fee4c0"/><rect x="630.0" y="157.5" width="11.1" height="11.1" fill="#fee8c8"/><rect x="640.5" y="157.5" width="11.1" height="11.1" fill="#fee6c4"/><rect x="651.0" y="157.5" width="11.1" height="11.1" fill="#fddaab"/><rect x="661.5" y="157.5" width="11.1" height="11.1" fill="#fdd29b"/><rect x="672.0" y="157.5" width="42.6" height="11.1" fill="#fdcf99"/><rect x="714.0" y="157.5" width="11.1" height="11.1" fill="#fdd49e"/><rect x="724.5" y="157.5" width="11.1" height="11.1" fill="#fee0b7"/><rect x="735.0" y="157.5" width="11.1" height="11.1" fill="#feeacc"/><rect x="745.5" y="157.5" width="11.1" height="11.1" fill="#fff2e1"/><rect x="756.0" y="157.5" width="32.1" height="11.1" fill="#fff4e5"/><rect x="84.0" y="168.0" width="210.6" height="11.1" fill="#fff2e1"/><rect x="294.0" y="168.0" width="32.1" height="11.1" fill="#fff1de"/><rect x="325.5" y="168.0" width="11.1" height="11.1" fill="#fee4c0"/><rect x="336.0" y="168.0" width="11.1" height="11.1" fill="#fdb680"/><rect x="346.5" y="168.0" width="11.1" height="11.1" fill="#fb8957"/><rect x="357.0" y="168.0" width="11.1" height="11.1" fill="#f88154"/><rect x="367.5" y="168.0" width="11.1" height="11.1" fill="#f67950"/><rect x="378.0" y="168.0" width="11.1" height="11.1" fill="#f4754f"/><rect x="388.5" y="168.0" width="11.1" height="11.1" fill="#cc2216"/><rect x="399.0" y="168.0" width="53.1" height="11.1" fill="#7f0000"/><rect x="451.5" y="168.0" width="11.1" height="11.1" fill="#a30000"/><rect x="462.0" y="168.0" width="11.1" height="11.1" fill="#fdbb84"/><rect x="472.5" y="168.0" width="11.1" height="11.1" fill="#fdd6a2"/><rect x="483.0" y="168.0" width="11.1" height="11.1" fill="#fdb27b"/><rect x="493.5" y="168.0" width="21.6" height="11.1" fill="#fda973"/><rect x="514.5" y="168.0" width="11.1" height="11.1" fill="#fdc28c"/><rect x="525.0" y="168.0" width="11.1" height="11.1" fill="#fddcaf"/><rect x="535.5" y="168.0" width="11.1" height="11.1" fill="#feeacc"/><rect x="546.0" y="168.0" width="11.1" height="11.1" fill="#feecd3"/><rect x="556.5" y="168.0" width="11.1" height="11.1" fill="#feebcf"/><rect x="567.0" y="168.0" width="11.1" height="11.1" fill="#fee2bb"/><rect x="577.5" y="168.0" width="21.6" height="11.1" fill="#fdd8a6"/><rect x="598.5" y="168.0" width="11.1" height="11.1" fill="#fedeb3"/><rect x="609.0" y="168.0" width="11.1" height="11.1" fill="#fddcaf"/><rect x="619.5" y="168.0" width="11.1" height="11.1" fill="#fedeb3"/><rect x="630.0" y="168.0" width="11.1" height="11.1" fill="#fee0b7"/><rect x="640.5" y="168.0" width="11.1" height="11.1" fill="#fee2bb"/><rect x="651.0" y="168.0" width="11.1" height="11.1" fill="#fddaab"/><rect x="661.5" y="168.0" width="32.1" height="11.1" fill="#fdcf99"/><rect x="693.0" y="168.0" width="11.1" height="11.1" fill="#fdd29b"/><rect x="703.5" y="168.0" width="11.1" height="11.1" fill="#fdd49e"/><rect x="714.0" y="168.0" width="11.1" height="11.1" fill="#fdd8a6"/><rect x="724.5" y="168.0" width="11.1" height="11.1" fill="#fedeb3"/><rect x="735.0" y="168.0" width="11.1" height="11.1" fill="#fee4c0"/><rect x="745.5" y="168.0" width="11.1" height="11.1" fill="#feebcf"/><rect x="756.0" y="168.0" width="11.1" height="11.1" fill="#fff2e1"/><rect x="766.5" y="168.0" width="21.6" height="11.1" fill="#fff4e5"/><rect x="84.0" y="178.5" width="189.6" height="11.1" fill="#fff2e1"/><rect x="273.0" y="178.5" width="11.1" height="11.1" fill="#fff4e5"/><rect x="283.5" y="178.5" width="21.6" height="11.1" fill="#fff2e1"/><rect x="304.5" y="178.5" width="21.6" height="11.1" fill="#fff1de"/><rect x="325.5" y="178.5" width="11.1" height="11.1" fill="#feecd3"/><rect x="336.0" y="178.5" width="11.1" height="11.1" fill="#fee2bb"/><rect x="346.5" y="178.5" width="11.1" height="11.1" fill="#fddcaf"/><rect x="357.0" y="178.5" width="21.6" height="11.1" fill="#fddaab"/><rect x="378.0" y="178.5" width="11.1" height="11.1" fill="#fdd29b"/><rect x="388.5" y="178.5" width="11.1" height="11.1" fill="#ef6548"/><rect x="399.0" y="178.5" width="53.1" height="11.1" fill="#7f0000"/><rect x="451.5" y="178.5" width="11.1" height="11.1" fill="#d32b1c"/><rect x="462.0" y="178.5" width="11.1" height="11.1" fill="#fdbe87"/><rect x="472.5" y="178.5" width="11.1" height="11.1" fill="#fedeb3"/><rect x="483.0" y="178.5" width="11.1" height="11.1" fill="#fdc891"/><rect x="493.5" y="178.5" width="21.6" height="11.1" fill="#fda973"/><rect x="514.5" y="178.5" width="11.1" height="11.1" fill="#fdbe87"/><rect x="525.0" y="178.5" width="11.1" height="11.1" fill="#fddaab"/><rect x="535.5" y="178.5" width="11.1" height="11.1" fill="#feeacc"/><rect x="546.0" y="178.5" width="11.1" height="11.1" fill="#fff1de"/><rect x="556.5" y="178.5" width="11.1" height="11.1" fill="#feebcf"/><rect x="567.0" y="178.5" width="11.1" height="11.1" fill="#fee4c0"/><rect x="577.5" y="178.5" width="11.1" height="11.1" fill="#fedeb3"/><rect x="588.0" y="178.5" width="63.6" height="11.1" fill="#fddcaf"/><rect x="651.0" y="178.5" width="11.1" height="11.1" fill="#fedeb3"/><rect x="661.5" y="178.5" width="11.1" height="11.1" fill="#fddaab"/><rect x="672.0" y="178.5" width="32.1" height="11.1" fill="#fddcaf"/><rect x="703.5" y="178.5" width="11.1" height="11.1" fill="#fdd6a2"/><rect x="714.0" y="178.5" width="11.1" height="11.1" fill="#fdca94"/><rect x="724.5" y="178.5" width="11.1" height="11.1" fill="#fdc089"/><rect x="735.0" y="178.5" width="11.1" height="11.1" fill="#fdd29b"/><rect x="745.5" y="178.5" width="11.1" height="11.1" fill="#fee6c4"/><rect x="756.0" y="178.5" width="11.1" height="11.1" fill="#fef0da"/><rect x="766.5" y="178.5" width="11.1" height="11.1" fill="#fff2e1"/><rect x="777.0" y="178.5" width="21.6" height="11.1" fill="#fff4e5"/><rect x="94.5" y="189.0" width="179.1" height="11.1" fill="#fff2e1"/><rect x="273.0" y="189.0" width="11.1" height="11.1" fill="#fff4e5"/><rect x="283.5" y="189.0" width="21.6" height="11.1" fill="#fff2e1"/><rect x="304.5" y="189.0" width="42.6" height="11.1" fill="#fff1de"/><rect x="346.5" y="189.0" width="11.1" height="11.1" fill="#fef0da"/><rect x="357.0" y="189.0" width="21.6" height="11.1" fill="#feeed6"/><rect x="378.0" y="189.0" width="11.1" height="11.1" fill="#fee0b7"/><rect x="388.5" y="189.0" width="11.1" height="11.1" fill="#fdbe87"/><rect x="399.0" y="189.0" width="11.1" height="11.1" fill="#f77d52"/><rect x="409.5" y="189.0" width="11.1" height="11.1" fill="#f3714d"/><rect x="420.0" y="189.0" width="11.1" height="11.1" fill="#f4754f"/><rect x="430.5" y="189.0" width="11.1" height="11.1" fill="#ea5a40"/><rect x="441.0" y="189.0" width="11.1" height="11.1" fill="#ed6044"/><rect x="451.5" y="189.0" width="11.1" height="11.1" fill="#fdb680"/><rect x="462.0" y="189.0" width="11.1" height="11.1" fill="#fddaab"/><rect x="472.5" y="189.0" width="11.1" height="11.1" fill="#fee6c4"/><rect x="483.0" y="189.0" width="11.1" height="11.1" fill="#fddaab"/><rect x="493.5" y="189.0" width="11.1" height="11.1" fill="#fdc089"/><rect x="504.0" y="189.0" width="11.1" height="11.1" fill="#fdca94"/><rect x="514.5" y="189.0" width="11.1" height="11.1" fill="#fdd8a6"/><rect x="525.0" y="189.0" width="11.1" height="11.1" fill="#fee4c0"/><rect x="535.5" y="189.0" width="11.1" height="11.1" fill="#feecd3"/><rect x="546.0" y="189.0" width="11.1" height="11.1" fill="#fff1de"/><rect x="556.5" y="189.0" width="11.1" height="11.1" fill="#feeed6"/><rect x="567.0" y="189.0" width="11.1" height="11.1" fill="#fee6c4"/><rect x="577.5" y="189.0" width="11.1" height="11.1" fill="#fee0b7"/><rect x="588.0" y="189.0" width="74.1" height="11.1" fill="#fddcaf"/><rect x="661.5" y="189.0" width="11.1" height="11.1" fill="#fee0b7"/><rect x="672.0" y="189.0" width="11.1" height="11.1" fill="#fddaab"/><rect x="682.5" y="189.0" width="11.1" height="11.1" fill="#fdcf99"/><rect x="693.0" y="189.0" width="11.1" height="11.1" fill="#fdc089"/><rect x="703.5" y="189.0" width="11.1" height="11.1" fill="#fca46e"/><rect x="714.0" y="189.0" width="11.1" height="11.1" fill="#fc8d59"/><rect x="724.5" y="189.0" width="11.1" height="11.1" fill="#f98556"/><rect x="735.0" y="189.0" width="11.1" height="11.1" fill="#fdc089"/><rect x="745.5" y="189.0" width="11.1" height="11.1" fill="#fedeb3"/><rect x="756.0" y="189.0" width="11.1" height="11.1" fill="#feecd3"/><rect x="766.5" y="189.0" width="21.6" height="11.1" fill="#fff2e1"/><rect x="787.5" y="189.0" width="11.1" height="11.1" fill="#fff4e5"/><rect x="94.5" y="199.5" width="179.1" height="11.1" fill="#fff2e1"/><rect x="273.0" y="199.5" width="21.6" height="11.1" fill="#fff4e5"/><rect x="294.0" y="199.5" width="11.1" height="11.1" fill="#fff2e1"/><rect x="304.5" y="199.5" width="32.1" height="11.1" fill="#fff1de"/><rect x="336.0" y="199.5" width="32.1" height="11.1" fill="#fff2e1"/><rect x="367.5" y="199.5" width="11.1" height="11.1" fill="#fff4e5"/><rect x="378.0" y="199.5" width="11.1" height="11.1" fill="#feeed6"/><rect x="388.5" y="199.5" width="11.1" height="11.1" fill="#fee4c0"/><rect x="399.0" y="199.5" width="11.1" height="11.1" fill="#fddcaf"/><rect x="409.5" y="199.5" width="11.1" height="11.1" fill="#fddaab"/><rect x="420.0" y="199.5" width="11.1" height="11.1" fill="#fdd6a2"/><rect x="430.5" y="199.5" width="21.6" height="11.1" fill="#fdcf99"/><rect x="451.5" y="199.5" width="11.1" height="11.1" fill="#fddaab"/><rect x="462.0" y="199.5" width="11.1" height="11.1" fill="#fedeb3"/><rect x="472.5" y="199.5" width="11.1" height="11.1" fill="#fee0b7"/><rect x="483.0" y="199.5" width="11.1" height="11.1" fill="#fee2bb"/><rect x="493.5" y="199.5" width="11.1" height="11.1" fill="#fedeb3"/><rect x="504.0" y="199.5" width="11.1" height="11.1" fill="#fee0b7"/><rect x="514.5" y="199.5" width="11.1" height="11.1" fill="#feeacc"/><rect x="525.0" y="199.5" width="11.1" height="11.1" fill="#feecd3"/><rect x="535.5" y="199.5" width="11.1" height="11.1" fill="#fef0da"/><rect x="546.0" y="199.5" width="21.6" height="11.1" fill="#fff1de"/><rect x="567.0" y="199.5" width="11.1" height="11.1" fill="#feebcf"/><rect x="577.5" y="199.5" width="11.1" height="11.1" fill="#fee6c4"/><rect x="588.0" y="199.5" width="11.1" height="11.1" fill="#fee0b7"/><rect x="598.5" y="199.5" width="63.6" height="11.1" fill="#fddcaf"/><rect x="661.5" y="199.5" width="11.1" height="11.1" fill="#fedeb3"/><rect x="672.0" y="199.5" width="11.1" height="11.1" fill="#fdc28c"/><rect x="682.5" y="199.5" width="11.1" height="11.1" fill="#fc9662"/><rect x="693.0" y="199.5" width="11.1" height="11.1" fill="#f98556"/><rect x="703.5" y="199.5" width="11.1" height="11.1" fill="#f26d4b"/><rect x="714.0" y="199.5" width="21.6" height="11.1" fill="#f77d52"/><rect x="735.0" y="199.5" width="11.1" height="11.1" fill="#fda973"/><rect x="745.5" y="199.5" width="11.1" height="11.1" fill="#fdd8a6"/><rect x="756.0" y="199.5" width="11.1" height="11.1" fill="#feeacc"/><rect x="766.5" y="199.5" width="21.6" height="11.1" fill="#fff2e1"/><rect x="787.5" y="199.5" width="21.6" height="11.1" fill="#fff4e5"/><rect x="105.0" y="210.0" width="168.6" height="11.1" fill="#fff2e1"/><rect x="273.0" y="210.0" width="21.6" height="11.1" fill="#fff4e5"/><rect x="294.0" y="210.0" width="11.1" height="11.1" fill="#fff2e1"/><rect x="304.5" y="210.0" width="32.1" height="11.1" fill="#fff1de"/><rect x="336.0" y="210.0" width="53.1" height="11.1" fill="#fff2e1"/><rect x="388.5" y="210.0" width="11.1" height="11.1" fill="#feebcf"/><rect x="399.0" y="210.0" width="11.1" height="11.1" fill="#fee2bb"/><rect x="409.5" y="210.0" width="11.1" height="11.1" fill="#fddcaf"/><rect x="420.0" y="210.0" width="63.6" height="11.1" fill="#fddaab"/><rect x="483.0" y="210.0" width="11.1" height="11.1" fill="#fddcaf"/><rect x="493.5" y="210.0" width="11.1" height="11.1" fill="#fee2bb"/><rect x="504.0" y="210.0" width="11.1" height="11.1" fill="#feebcf"/><rect x="514.5" y="210.0" width="32.1" height="11.1" fill="#fef0da"/><rect x="546.0" y="210.0" width="32.1" height="11.1" fill="#fff1de"/><rect x="577.5" y="210.0" width="11.1" height="11.1" fill="#feebcf"/><rect x="588.0" y="210.0" width="11.1" height="11.1" fill="#fee6c4"/><rect x="598.5" y="210.0" width="11.1" height="11.1" fill="#fee0b7"/><rect x="609.0" y="210.0" width="32.1" height="11.1" fill="#fedeb3"/><rect x="640.5" y="210.0" width="32.1" height="11.1" fill="#fee0b7"/><rect x="672.0" y="210.0" width="11.1" height="11.1" fill="#fdc58e"/><rect x="682.5" y="210.0" width="11.1" height="11.1" fill="#f98556"/><rect x="693.0" y="210.0" width="11.1" height="11.1" fill="#e1452f"/><rect x="703.5" y="210.0" width="11.1" height="11.1" fill="#c91d13"/><rect x="714.0" y="210.0" width="11.1" height="11.1" fill="#de402b"/><rect x="724.5" y="210.0" width="11.1" height="11.1" fill="#f77d52"/><rect x="735.0" y="210.0" width="11.1" height="11.1" fill="#fc9662"/><rect x="745.5" y="210.0" width="11.1" height="11.1" fill="#fdcf99"/><rect x="756.0" y="210.0" width="11.1" height="11.1" fill="#fee6c4"/><rect x="766.5" y="210.0" width="11.1" height="11.1" fill="#fef0da"/><rect x="777.0" y="210.0" width="11.1" height="11.1" fill="#fff2e1"/><rect x="787.5" y="210.0" width="32.1" height="11.1" fill="#fff4e5"/><rect x="105.0" y="220.5" width="168.6" height="11.1" fill="#fff2e1"/><rect x="273.0" y="220.5" width="21.6" height="11.1" fill="#fff4e5"/><rect x="294.0" y="220.5" width="21.6" height="11.1" fill="#fff2e1"/><rect x="315.0" y="220.5" width="63.6" height="11.1" fill="#fff1de"/><rect x="378.0" y="220.5" width="11.1" height="11.1" fill="#fff2e1"/><rect x="388.5" y="220.5" width="11.1" height="11.1" fill="#feecd3"/><rect x="399.0" y="220.5" width="11.1" height="11.1" fill="#fee2bb"/><rect x="409.5" y="220.5" width="11.1" height="11.1" fill="#fddcaf"/><rect x="420.0" y="220.5" width="74.1" height="11.1" fill="#fddaab"/><rect x="493.5" y="220.5" width="11.1" height="11.1" fill="#fedeb3"/><rect x="504.0" y="220.5" width="11.1" height="11.1" fill="#fee4c0"/><rect x="514.5" y="220.5" width="11.1" height="11.1" fill="#feecd3"/><rect x="525.0" y="220.5" width="21.6" height="11.1" fill="#fef0da"/><rect x="546.0" y="220.5" width="21.6" height="11.1" fill="#fff1de"/><rect x="567.0" y="220.5" width="11.1" height="11.1" fill="#fff2e1"/><rect x="577.5" y="220.5" width="11.1" height="11.1" fill="#fff1de"/><rect x="588.0" y="220.5" width="11.1" height="11.1" fill="#feebcf"/><rect x="598.5" y="220.5" width="11.1" height="11.1" fill="#fee6c4"/><rect x="609.0" y="220.5" width="11.1" height="11.1" fill="#fee2bb"/><rect x="619.5" y="220.5" width="11.1" height="11.1" fill="#fee4c0"/><rect x="630.0" y="220.5" width="11.1" height="11.1" fill="#fee6c4"/><rect x="640.5" y="220.5" width="32.1" height="11.1" fill="#fee8c8"/><rect x="672.0" y="220.5" width="11.1" height="11.1" fill="#fdd8a6"/><rect x="682.5" y="220.5" width="11.1" height="11.1" fill="#fc9f6a"/><rect x="693.0" y="220.5" width="11.1" height="11.1" fill="#d02619"/><rect x="703.5" y="220.5" width="11.1" height="11.1" fill="#c91d13"/><rect x="714.0" y="220.5" width="11.1" height="11.1" fill="#e34a34"/><rect x="724.5" y="220.5" width="11.1" height="11.1" fill="#f77d52"/><rect x="735.0" y="220.5" width="11.1" height="11.1" fill="#fb8957"/><rect x="745.5" y="220.5" width="11.1" height="11.1" fill="#fdca94"/><rect x="756.0" y="220.5" width="11.1" height="11.1" fill="#fee4c0"/><rect x="766.5" y="220.5" width="11.1" height="11.1" fill="#feeed6"/><rect x="777.0" y="220.5" width="11.1" height="11.1" fill="#fff2e1"/><rect x="787.5" y="220.5" width="32.1" height="11.1" fill="#fff4e5"/><rect x="115.5" y="231.0" width="158.1" height="11.1" fill="#fff2e1"/><rect x="273.0" y="231.0" width="21.6" height="11.1" fill="#fff4e5"/><rect x="294.0" y="231.0" width="21.6" height="11.1" fill="#fff2e1"/><rect x="315.0" y="231.0" width="32.1" height="11.1" fill="#fff1de"/><rect x="346.5" y="231.0" width="21.6" height="11.1" fill="#fef0da"/><rect x="367.5" y="231.0" width="11.1" height="11.1" fill="#fff1de"/><rect x="378.0" y="231.0" width="11.1" height="11.1" fill="#fff2e1"/><rect x="388.5" y="231.0" width="11.1" height="11.1" fill="#fef0da"/><rect x="399.0" y="231.0" width="11.1" height="11.1" fill="#fee8c8"/><rect x="409.5" y="231.0" width="11.1" height="11.1" fill="#fee2bb"/><rect x="420.0" y="231.0" width="11.1" height="11.1" fill="#fedeb3"/><rect x="430.5" y="231.0" width="11.1" height="11.1" fill="#fddaab"/><rect x="441.0" y="231.0" width="11.1" height="11.1" fill="#fdc089"/><rect x="451.5" y="231.0" width="11.1" height="11.1" fill="#fdc58e"/><rect x="462.0" y="231.0" width="11.1" height="11.1" fill="#fdd6a2"/><rect x="472.5" y="231.0" width="21.6" height="11.1" fill="#fddaab"/><rect x="493.5" y="231.0" width="11.1" height="11.1" fill="#fddcaf"/><rect x="504.0" y="231.0" width="11.1" height="11.1" fill="#fee0b7"/><rect x="514.5" y="231.0" width="11.1" height="11.1" fill="#fee8c8"/><rect x="525.0" y="231.0" width="11.1" height="11.1" fill="#feeed6"/><rect x="535.5" y="231.0" width="21.6" height="11.1" fill="#fff1de"/><rect x="556.5" y="231.0" width="11.1" height="11.1" fill="#fff2e1"/><rect x="567.0" y="231.0" width="11.1" height="11.1" fill="#feeed6"/><rect x="577.5" y="231.0" width="11.1" height="11.1" fill="#feebcf"/><rect x="588.0" y="231.0" width="11.1" height="11.1" fill="#feeacc"/><rect x="598.5" y="231.0" width="21.6" height="11.1" fill="#feebcf"/><rect x="619.5" y="231.0" width="11.1" height="11.1" fill="#feecd3"/><rect x="630.0" y="231.0" width="11.1" height="11.1" fill="#feeed6"/><rect x="640.5" y="231.0" width="11.1" height="11.1" fill="#fef0da"/><rect x="651.0" y="231.0" width="11.1" height="11.1" fill="#fff1de"/><rect x="661.5" y="231.0" width="11.1" height="11.1" fill="#feecd3"/><rect x="672.0" y="231.0" width="11.1" height="11.1" fill="#fee4c0"/><rect x="682.5" y="231.0" width="11.1" height="11.1" fill="#fdd29b"/><rect x="693.0" y="231.0" width="11.1" height="11.1" fill="#f67950"/><rect x="703.5" y="231.0" width="11.1" height="11.1" fill="#f26d4b"/><rect x="714.0" y="231.0" width="11.1" height="11.1" fill="#f98556"/><rect x="724.5" y="231.0" width="11.1" height="11.1" fill="#fca46e"/><rect x="735.0" y="231.0" width="11.1" height="11.1" fill="#fdc58e"/><rect x="745.5" y="231.0" width="11.1" height="11.1" fill="#fdd8a6"/><rect x="756.0" y="231.0" width="11.1" height="11.1" fill="#fee8c8"/><rect x="766.5" y="231.0" width="11.1" height="11.1" fill="#fff1de"/><rect x="777.0" y="231.0" width="53.1" height="11.1" fill="#fff4e5"/><rect x="126.0" y="241.5" width="147.6" height="11.1" fill="#fff2e1"/><rect x="273.0" y="241.5" width="21.6" height="11.1" fill="#fff4e5"/><rect x="294.0" y="241.5" width="21.6" height="11.1" fill="#fff2e1"/><rect x="315.0" y="241.5" width="11.1" height="11.1" fill="#fff1de"/><rect x="325.5" y="241.5" width="42.6" height="11.1" fill="#fef0da"/><rect x="367.5" y="241.5" width="11.1" height="11.1" fill="#fff1de"/><rect x="378.0" y="241.5" width="21.6" height="11.1" fill="#fff2e1"/><rect x="399.0" y="241.5" width="11.1" height="11.1" fill="#fef0da"/><rect x="409.5" y="241.5" width="11.1" height="11.1" fill="#feeacc"/><rect x="420.0" y="241.5" width="11.1" height="11.1" fill="#fee6c4"/><rect x="430.5" y="241.5" width="11.1" height="11.1" fill="#fddcaf"/><rect x="441.0" y="241.5" width="11.1" height="11.1" fill="#fdc089"/><rect x="451.5" y="241.5" width="11.1" height="11.1" fill="#fdb27b"/><rect x="462.0" y="241.5" width="11.1" height="11.1" fill="#fdb680"/><rect x="472.5" y="241.5" width="11.1" height="11.1" fill="#fdc089"/><rect x="483.0" y="241.5" width="11.1" height="11.1" fill="#fdca94"/><rect x="493.5" y="241.5" width="11.1" height="11.1" fill="#fddaab"/><rect x="504.0" y="241.5" width="11.1" height="11.1" fill="#fddcaf"/><rect x="514.5" y="241.5" width="11.1" height="11.1" fill="#fee2bb"/><rect x="525.0" y="241.5" width="11.1" height="11.1" fill="#feebcf"/><rect x="535.5" y="241.5" width="11.1" height="11.1" fill="#fff1de"/><rect x="546.0" y="241.5" width="11.1" height="11.1" fill="#fef0da"/><rect x="556.5" y="241.5" width="11.1" height="11.1" fill="#feecd3"/><rect x="567.0" y="241.5" width="11.1" height="11.1" fill="#fee6c4"/><rect x="577.5" y="241.5" width="11.1" height="11.1" fill="#fddcaf"/><rect x="588.0" y="241.5" width="11.1" height="11.1" fill="#fdd6a2"/><rect x="598.5" y="241.5" width="11.1" height="11.1" fill="#fddcaf"/><rect x="609.0" y="241.5" width="11.1" height="11.1" fill="#fee4c0"/><rect x="619.5" y="241.5" width="11.1" height="11.1" fill="#feeacc"/><rect x="630.0" y="241.5" width="11.1" height="11.1" fill="#feecd3"/><rect x="640.5" y="241.5" width="21.6" height="11.1" fill="#fff1de"/><rect x="661.5" y="241.5" width="11.1" height="11.1" fill="#feecd3"/><rect x="672.0" y="241.5" width="11.1" height="11.1" fill="#feeacc"/><rect x="682.5" y="241.5" width="11.1" height="11.1" fill="#fee0b7"/><rect x="693.0" y="241.5" width="11.1" height="11.1" fill="#fdc58e"/><rect x="703.5" y="241.5" width="11.1" height="11.1" fill="#fc9f6a"/><rect x="714.0" y="241.5" width="11.1" height="11.1" fill="#fdc089"/><rect x="724.5" y="241.5" width="11.1" height="11.1" fill="#fdd49e"/><rect x="735.0" y="241.5" width="11.1" height="11.1" fill="#fee0b7"/><rect x="745.5" y="241.5" width="11.1" height="11.1" fill="#fee8c8"/><rect x="756.0" y="241.5" width="11.1" height="11.1" fill="#feeed6"/><rect x="766.5" y="241.5" width="11.1" height="11.1" fill="#fff2e1"/><rect x="777.0" y="241.5" width="42.6" height="11.1" fill="#fff4e5"/><rect x="126.0" y="252.0" width="147.6" height="11.1" fill="#fff2e1"/><rect x="273.0" y="252.0" width="32.1" height="11.1" fill="#fff4e5"/><rect x="304.5" y="252.0" width="11.1" height="11.1" fill="#fff2e1"/><rect x="315.0" y="252.0" width="11.1" height="11.1" fill="#fff1de"/><rect x="325.5" y="252.0" width="42.6" height="11.1" fill="#fef0da"/><rect x="367.5" y="252.0" width="11.1" height="11.1" fill="#fff1de"/><rect x="378.0" y="252.0" width="11.1" height="11.1" fill="#fff2e1"/><rect x="388.5" y="252.0" width="21.6" height="11.1" fill="#fff4e5"/><rect x="409.5" y="252.0" width="11.1" height="11.1" fill="#fff2e1"/><rect x="420.0" y="252.0" width="11.1" height="11.1" fill="#feebcf"/><rect x="430.5" y="252.0" width="11.1" height="11.1" fill="#fee4c0"/><rect x="441.0" y="252.0" width="11.1" height="11.1" fill="#fedeb3"/><rect x="451.5" y="252.0" width="11.1" height="11.1" fill="#fdd49e"/><rect x="462.0" y="252.0" width="11.1" height="11.1" fill="#fdc28c"/><rect x="472.5" y="252.0" width="11.1" height="11.1" fill="#fdb680"/><rect x="483.0" y="252.0" width="11.1" height="11.1" fill="#fdb27b"/><rect x="493.5" y="252.0" width="11.1" height="11.1" fill="#fdd49e"/><rect x="504.0" y="252.0" width="11.1" height="11.1" fill="#fedeb3"/><rect x="514.5" y="252.0" width="11.1" height="11.1" fill="#fee4c0"/><rect x="525.0" y="252.0" width="11.1" height="11.1" fill="#feecd3"/><rect x="535.5" y="252.0" width="11.1" height="11.1" fill="#feeed6"/><rect x="546.0" y="252.0" width="11.1" height="11.1" fill="#feeacc"/><rect x="556.5" y="252.0" width="11.1" height="11.1" fill="#fee0b7"/><rect x="567.0" y="252.0" width="11.1" height="11.1" fill="#fdd6a2"/><rect x="577.5" y="252.0" width="11.1" height="11.1" fill="#fdc28c"/><rect x="588.0" y="252.0" width="11.1" height="11.1" fill="#fdb27b"/><rect x="598.5" y="252.0" width="11.1" height="11.1" fill="#fdc089"/><rect x="609.0" y="252.0" width="11.1" height="11.1" fill="#fdcf99"/><rect x="619.5" y="252.0" width="11.1" height="11.1" fill="#fddaab"/><rect x="630.0" y="252.0" width="11.1" height="11.1" fill="#fee2bb"/><rect x="640.5" y="252.0" width="11.1" height="11.1" fill="#feeacc"/><rect x="651.0" y="252.0" width="11.1" height="11.1" fill="#fee8c8"/><rect x="661.5" y="252.0" width="11.1" height="11.1" fill="#fee2bb"/><rect x="672.0" y="252.0" width="11.1" height="11.1" fill="#fddaab"/><rect x="682.5" y="252.0" width="11.1" height="11.1" fill="#fdd29b"/><rect x="693.0" y="252.0" width="11.1" height="11.1" fill="#fdca94"/><rect x="703.5" y="252.0" width="11.1" height="11.1" fill="#fdd49e"/><rect x="714.0" y="252.0" width="11.1" height="11.1" fill="#fedeb3"/><rect x="724.5" y="252.0" width="11.1" height="11.1" fill="#fee6c4"/><rect x="735.0" y="252.0" width="11.1" height="11.1" fill="#feebcf"/><rect x="745.5" y="252.0" width="11.1" height="11.1" fill="#fef0da"/><rect x="756.0" y="252.0" width="11.1" height="11.1" fill="#fff2e1"/><rect x="766.5" y="252.0" width="32.1" height="11.1" fill="#fff4e5"/><rect x="136.5" y="262.5" width="126.6" height="11.1" fill="#fff2e1"/><rect x="262.5" y="262.5" width="42.6" height="11.1" fill="#fff4e5"/><rect x="304.5" y="262.5" width="11.1" height="11.1" fill="#fff2e1"/><rect x="315.0" y="262.5" width="11.1" height="11.1" fill="#fff1de"/><rect x="325.5" y="262.5" width="11.1" height="11.1" fill="#fef0da"/><rect x="336.0" y="262.5" width="21.6" height="11.1" fill="#feeed6"/><rect x="357.0" y="262.5" width="11.1" height="11.1" fill="#fef0da"/><rect x="367.5" y="262.5" width="11.1" height="11.1" fill="#fff1de"/><rect x="378.0" y="262.5" width="11.1" height="11.1" fill="#fff2e1"/><rect x="388.5" y="262.5" width="32.1" height="11.1" fill="#fff4e5"/><rect x="420.0" y="262.5" width="11.1" height="11.1" fill="#fff2e1"/><rect x="430.5" y="262.5" width="11.1" height="11.1" fill="#feebcf"/><rect x="441.0" y="262.5" width="11.1" height="11.1" fill="#fee8c8"/><rect x="451.5" y="262.5" width="11.1" height="11.1" fill="#fee2bb"/><rect x="462.0" y="262.5" width="11.1" height="11.1" fill="#fedeb3"/><rect x="472.5" y="262.5" width="11.1" height="11.1" fill="#fdd8a6"/><rect x="483.0" y="262.5" width="11.1" height="11.1" fill="#fdd49e"/><rect x="493.5" y="262.5" width="11.1" height="11.1" fill="#fedeb3"/><rect x="504.0" y="262.5" width="11.1" height="11.1" fill="#fee4c0"/><rect x="514.5" y="262.5" width="11.1" height="11.1" fill="#feeacc"/><rect x="525.0" y="262.5" width="11.1" height="11.1" fill="#feecd3"/><rect x="535.5" y="262.5" width="11.1" height="11.1" fill="#fee4c0"/><rect x="546.0" y="262.5" width="11.1" height="11.1" fill="#fddaab"/><rect x="556.5" y="262.5" width="11.1" height="11.1" fill="#fdca94"/><rect x="567.0" y="262.5" width="11.1" height="11.1" fill="#fdb680"/><rect x="577.5" y="262.5" width="21.6" height="11.1" fill="#fc9f6a"/><rect x="598.5" y="262.5" width="11.1" height="11.1" fill="#fc9b66"/><rect x="609.0" y="262.5" width="11.1" height="11.1" fill="#fca46e"/><rect x="619.5" y="262.5" width="11.1" height="11.1" fill="#fdb680"/><rect x="630.0" y="262.5" width="11.1" height="11.1" fill="#fdc891"/><rect x="640.5" y="262.5" width="21.6" height="11.1" fill="#fdd6a2"/><rect x="661.5" y="262.5" width="11.1" height="11.1" fill="#fdc891"/><rect x="672.0" y="262.5" width="11.1" height="11.1" fill="#fdb680"/><rect x="682.5" y="262.5" width="11.1" height="11.1" fill="#fc9f6a"/><rect x="693.0" y="262.5" width="11.1" height="11.1" fill="#fc9662"/><rect x="703.5" y="262.5" width="11.1" height="11.1" fill="#fdcf99"/><rect x="714.0" y="262.5" width="11.1" height="11.1" fill="#fee6c4"/><rect x="724.5" y="262.5" width="11.1" height="11.1" fill="#feeed6"/><rect x="735.0" y="262.5" width="32.1" height="11.1" fill="#fff2e1"/><rect x="766.5" y="262.5" width="11.1" height="11.1" fill="#fff4e5"/><rect x="136.5" y="273.0" width="126.6" height="11.1" fill="#fff2e1"/><rect x="262.5" y="273.0" width="42.6" height="11.1" fill="#fff4e5"/><rect x="304.5" y="273.0" width="11.1" height="11.1" fill="#fff2e1"/><rect x="315.0" y="273.0" width="11.1" height="11.1" fill="#fff1de"/><rect x="325.5" y="273.0" width="11.1" height="11.1" fill="#fef0da"/><rect x="336.0" y="273.0" width="21.6" height="11.1" fill="#feeed6"/><rect x="357.0" y="273.0" width="11.1" height="11.1" fill="#fef0da"/><rect x="367.5" y="273.0" width="11.1" height="11.1" fill="#fff1de"/><rect x="378.0" y="273.0" width="11.1" height="11.1" fill="#fff2e1"/><rect x="388.5" y="273.0" width="53.1" height="11.1" fill="#fff4e5"/><rect x="441.0" y="273.0" width="11.1" height="11.1" fill="#fff1de"/><rect x="451.5" y="273.0" width="11.1" height="11.1" fill="#feecd3"/><rect x="462.0" y="273.0" width="11.1" height="11.1" fill="#feeacc"/><rect x="472.5" y="273.0" width="11.1" height="11.1" fill="#fee4c0"/><rect x="483.0" y="273.0" width="11.1" height="11.1" fill="#fee2bb"/><rect x="493.5" y="273.0" width="11.1" height="11.1" fill="#fee6c4"/><rect x="504.0" y="273.0" width="11.1" height="11.1" fill="#feebcf"/><rect x="514.5" y="273.0" width="11.1" height="11.1" fill="#fef0da"/><rect x="525.0" y="273.0" width="11.1" height="11.1" fill="#fee8c8"/><rect x="535.5" y="273.0" width="11.1" height="11.1" fill="#fdd6a2"/><rect x="546.0" y="273.0" width="11.1" height="11.1" fill="#fdbe87"/><rect x="556.5" y="273.0" width="11.1" height="11.1" fill="#fca46e"/><rect x="567.0" y="273.0" width="11.1" height="11.1" fill="#fc9f6a"/><rect x="577.5" y="273.0" width="11.1" height="11.1" fill="#fb8957"/><rect x="588.0" y="273.0" width="11.1" height="11.1" fill="#c91d13"/><rect x="598.5" y="273.0" width="11.1" height="11.1" fill="#940000"/><rect x="609.0" y="273.0" width="11.1" height="11.1" fill="#c51810"/><rect x="619.5" y="273.0" width="11.1" height="11.1" fill="#fc9662"/><rect x="630.0" y="273.0" width="11.1" height="11.1" fill="#fca46e"/><rect x="640.5" y="273.0" width="21.6" height="11.1" fill="#fdbe87"/><rect x="661.5" y="273.0" width="11.1" height="11.1" fill="#fc925d"/><rect x="672.0" y="273.0" width="11.1" height="11.1" fill="#f67950"/><rect x="682.5" y="273.0" width="11.1" height="11.1" fill="#cc2216"/><rect x="693.0" y="273.0" width="11.1" height="11.1" fill="#fb8957"/><rect x="703.5" y="273.0" width="11.1" height="11.1" fill="#fdc089"/><rect x="714.0" y="273.0" width="11.1" height="11.1" fill="#fee2bb"/><rect x="724.5" y="273.0" width="11.1" height="11.1" fill="#feecd3"/><rect x="735.0" y="273.0" width="32.1" height="11.1" fill="#fff2e1"/><rect x="147.0" y="283.5" width="116.1" height="11.1" fill="#fff2e1"/><rect x="262.5" y="283.5" width="42.6" height="11.1" fill="#fff4e5"/><rect x="304.5" y="283.5" width="11.1" height="11.1" fill="#fff2e1"/><rect x="315.0" y="283.5" width="11.1" height="11.1" fill="#fff1de"/><rect x="325.5" y="283.5" width="11.1" height="11.1" fill="#fef0da"/><rect x="336.0" y="283.5" width="21.6" height="11.1" fill="#feeed6"/><rect x="357.0" y="283.5" width="11.1" height="11.1" fill="#fef0da"/><rect x="367.5" y="283.5" width="11.1" height="11.1" fill="#fff1de"/><rect x="378.0" y="283.5" width="11.1" height="11.1" fill="#fff2e1"/><rect x="388.5" y="283.5" width="74.1" height="11.1" fill="#fff4e5"/><rect x="462.0" y="283.5" width="11.1" height="11.1" fill="#fff1de"/><rect x="472.5" y="283.5" width="11.1" height="11.1" fill="#feecd3"/><rect x="483.0" y="283.5" width="11.1" height="11.1" fill="#feebcf"/><rect x="493.5" y="283.5" width="11.1" height="11.1" fill="#feecd3"/><rect x="504.0" y="283.5" width="11.1" height="11.1" fill="#fff2e1"/><rect x="514.5" y="283.5" width="11.1" height="11.1" fill="#fef0da"/><rect x="525.0" y="283.5" width="11.1" height="11.1" fill="#fee8c8"/><rect x="535.5" y="283.5" width="11.1" height="11.1" fill="#fdd6a2"/><rect x="546.0" y="283.5" width="11.1" height="11.1" fill="#fda973"/><rect x="556.5" y="283.5" width="21.6" height="11.1" fill="#fc9f6a"/><rect x="577.5" y="283.5" width="11.1" height="11.1" fill="#fc9662"/><rect x="588.0" y="283.5" width="11.1" height="11.1" fill="#a30000"/><rect x="598.5" y="283.5" width="21.6" height="11.1" fill="#7f0000"/><rect x="619.5" y="283.5" width="11.1" height="11.1" fill="#ba0a06"/><rect x="630.0" y="283.5" width="11.1" height="11.1" fill="#ef6548"/><rect x="640.5" y="283.5" width="11.1" height="11.1" fill="#fc9662"/><rect x="651.0" y="283.5" width="11.1" height="11.1" fill="#fdc58e"/><rect x="661.5" y="283.5" width="11.1" height="11.1" fill="#fc9662"/><rect x="672.0" y="283.5" width="11.1" height="11.1" fill="#b70503"/><rect x="682.5" y="283.5" width="11.1" height="11.1" fill="#940000"/><rect x="693.0" y="283.5" width="11.1" height="11.1" fill="#e8553c"/><rect x="703.5" y="283.5" width="11.1" height="11.1" fill="#fdb680"/><rect x="714.0" y="283.5" width="11.1" height="11.1" fill="#fddcaf"/><rect x="724.5" y="283.5" width="11.1" height="11.1" fill="#feeacc"/><rect x="735.0" y="283.5" width="11.1" height="11.1" fill="#fff1de"/><rect x="147.0" y="294.0" width="105.6" height="11.1" fill="#fff2e1"/><rect x="252.0" y="294.0" width="53.1" height="11.1" fill="#fff4e5"/><rect x="304.5" y="294.0" width="11.1" height="11.1" fill="#fff2e1"/><rect x="315.0" y="294.0" width="11.1" height="11.1" fill="#fff1de"/><rect x="325.5" y="294.0" width="32.1" height="11.1" fill="#feeed6"/><rect x="357.0" y="294.0" width="11.1" height="11.1" fill="#fef0da"/><rect x="367.5" y="294.0" width="21.6" height="11.1" fill="#fff2e1"/><rect x="388.5" y="294.0" width="95.1" height="11.1" fill="#fff4e5"/><rect x="483.0" y="294.0" width="11.1" height="11.1" fill="#fff2e1"/><rect x="493.5" y="294.0" width="21.6" height="11.1" fill="#fff4e5"/><rect x="514.5" y="294.0" width="11.1" height="11.1" fill="#fff2e1"/><rect x="525.0" y="294.0" width="11.1" height="11.1" fill="#feebcf"/><rect x="535.5" y="294.0" width="11.1" height="11.1" fill="#fedeb3"/><rect x="546.0" y="294.0" width="11.1" height="11.1" fill="#fdc28c"/><rect x="556.5" y="294.0" width="21.6" height="11.1" fill="#fc9f6a"/><rect x="577.5" y="294.0" width="11.1" height="11.1" fill="#f88154"/><rect x="588.0" y="294.0" width="11.1" height="11.1" fill="#940000"/><rect x="598.5" y="294.0" width="42.6" height="11.1" fill="#7f0000"/><rect x="640.5" y="294.0" width="11.1" height="11.1" fill="#c1130c"/><rect x="651.0" y="294.0" width="11.1" height="11.1" fill="#fca46e"/><rect x="661.5" y="294.0" width="11.1" height="11.1" fill="#fdb27b"/><rect x="672.0" y="294.0" width="11.1" height="11.1" fill="#f3714d"/><rect x="682.5" y="294.0" width="11.1" height="11.1" fill="#f26d4b"/><rect x="693.0" y="294.0" width="11.1" height="11.1" fill="#fc9f6a"/><rect x="703.5" y="294.0" width="11.1" height="11.1" fill="#fca46e"/><rect x="714.0" y="294.0" width="11.1" height="11.1" fill="#fdcc96"/><rect x="157.5" y="304.5" width="95.1" height="11.1" fill="#fff2e1"/><rect x="252.0" y="304.5" width="53.1" height="11.1" fill="#fff4e5"/><rect x="304.5" y="304.5" width="11.1" height="11.1" fill="#fff2e1"/><rect x="315.0" y="304.5" width="11.1" height="11.1" fill="#fff1de"/><rect x="325.5" y="304.5" width="11.1" height="11.1" fill="#feeed6"/><rect x="336.0" y="304.5" width="11.1" height="11.1" fill="#feecd3"/><rect x="346.5" y="304.5" width="11.1" height="11.1" fill="#feeed6"/><rect x="357.0" y="304.5" width="11.1" height="11.1" fill="#fef0da"/><rect x="367.5" y="304.5" width="11.1" height="11.1" fill="#fff2e1"/><rect x="378.0" y="304.5" width="147.6" height="11.1" fill="#fff4e5"/><rect x="525.0" y="304.5" width="11.1" height="11.1" fill="#feeed6"/><rect x="535.5" y="304.5" width="11.1" height="11.1" fill="#fee8c8"/><rect x="546.0" y="304.5" width="11.1" height="11.1" fill="#fdd6a2"/><rect x="556.5" y="304.5" width="11.1" height="11.1" fill="#fdad77"/><rect x="567.0" y="304.5" width="11.1" height="11.1" fill="#fc9f6a"/><rect x="577.5" y="304.5" width="11.1" height="11.1" fill="#d02619"/><rect x="588.0" y="304.5" width="63.6" height="11.1" fill="#7f0000"/><rect x="651.0" y="304.5" width="11.1" height="11.1" fill="#de402b"/><rect x="661.5" y="304.5" width="11.1" height="11.1" fill="#fdb680"/><rect x="672.0" y="304.5" width="11.1" height="11.1" fill="#fca46e"/><rect x="682.5" y="304.5" width="21.6" height="11.1" fill="#fc9f6a"/><rect x="157.5" y="315.0" width="84.6" height="11.1" fill="#fff2e1"/><rect x="241.5" y="315.0" width="63.6" height="11.1" fill="#fff4e5"/><rect x="304.5" y="315.0" width="11.1" height="11.1" fill="#fff2e1"/><rect x="315.0" y="315.0" width="11.1" height="11.1" fill="#fff1de"/><rect x="325.5" y="315.0" width="11.1" height="11.1" fill="#feeed6"/><rect x="336.0" y="315.0" width="11.1" height="11.1" fill="#feecd3"/><rect x="346.5" y="315.0" width="11.1" height="11.1" fill="#feeed6"/><rect x="357.0" y="315.0" width="11.1" height="11.1" fill="#fef0da"/><rect x="367.5" y="315.0" width="11.1" height="11.1" fill="#fff2e1"/><rect x="378.0" y="315.0" width="147.6" height="11.1" fill="#fff4e5"/><rect x="525.0" y="315.0" width="11.1" height="11.1" fill="#fff2e1"/><rect x="535.5" y="315.0" width="11.1" height="11.1" fill="#feecd3"/><rect x="546.0" y="315.0" width="11.1" height="11.1" fill="#fee0b7"/><rect x="556.5" y="315.0" width="11.1" height="11.1" fill="#fdc58e"/><rect x="567.0" y="315.0" width="11.1" height="11.1" fill="#fc9662"/><rect x="577.5" y="315.0" width="11.1" height="11.1" fill="#8f0000"/><rect x="588.0" y="315.0" width="21.6" height="11.1" fill="#7f0000"/><rect x="609.0" y="315.0" width="11.1" height="11.1" fill="#c91d13"/><rect x="619.5" y="315.0" width="11.1" height="11.1" fill="#9e0000"/><rect x="630.0" y="315.0" width="32.1" height="11.1" fill="#7f0000"/><rect x="661.5" y="315.0" width="11.1" height="11.1" fill="#f3714d"/><rect x="672.0" y="315.0" width="11.1" height="11.1" fill="#fdbe87"/><rect x="168.0" y="325.5" width="63.6" height="11.1" fill="#fff2e1"/><rect x="231.0" y="325.5" width="74.1" height="11.1" fill="#fff4e5"/><rect x="304.5" y="325.5" width="11.1" height="11.1" fill="#fff2e1"/><rect x="315.0" y="325.5" width="11.1" height="11.1" fill="#fff1de"/><rect x="325.5" y="325.5" width="11.1" height="11.1" fill="#feeed6"/><rect x="336.0" y="325.5" width="11.1" height="11.1" fill="#feecd3"/><rect x="346.5" y="325.5" width="11.1" height="11.1" fill="#feeed6"/><rect x="357.0" y="325.5" width="11.1" height="11.1" fill="#fff1de"/><rect x="367.5" y="325.5" width="11.1" height="11.1" fill="#fff2e1"/><rect x="378.0" y="325.5" width="158.1" height="11.1" fill="#fff4e5"/><rect x="535.5" y="325.5" width="11.1" height="11.1" fill="#fef0da"/><rect x="546.0" y="325.5" width="11.1" height="11.1" fill="#feeacc"/><rect x="556.5" y="325.5" width="11.1" height="11.1" fill="#fdd8a6"/><rect x="567.0" y="325.5" width="11.1" height="11.1" fill="#fdb680"/><rect x="577.5" y="325.5" width="11.1" height="11.1" fill="#f98556"/><rect x="588.0" y="325.5" width="11.1" height="11.1" fill="#dc3b27"/><rect x="598.5" y="325.5" width="11.1" height="11.1" fill="#f77d52"/><rect x="609.0" y="325.5" width="11.1" height="11.1" fill="#fc9f6a"/><rect x="619.5" y="325.5" width="11.1" height="11.1" fill="#f98556"/><rect x="630.0" y="325.5" width="11.1" height="11.1" fill="#a30000"/><rect x="640.5" y="325.5" width="21.6" height="11.1" fill="#7f0000"/><rect x="178.5" y="336.0" width="42.6" height="11.1" fill="#fff2e1"/><rect x="220.5" y="336.0" width="84.6" height="11.1" fill="#fff4e5"/><rect x="304.5" y="336.0" width="11.1" height="11.1" fill="#fff2e1"/><rect x="315.0" y="336.0" width="11.1" height="11.1" fill="#fff1de"/><rect x="325.5" y="336.0" width="11.1" height="11.1" fill="#feeed6"/><rect x="336.0" y="336.0" width="11.1" height="11.1" fill="#feecd3"/><rect x="346.5" y="336.0" width="11.1" height="11.1" fill="#feeed6"/><rect x="357.0" y="336.0" width="11.1" height="11.1" fill="#fff1de"/><rect x="367.5" y="336.0" width="11.1" height="11.1" fill="#fff2e1"/><rect x="378.0" y="336.0" width="168.6" height="11.1" fill="#fff4e5"/><rect x="546.0" y="336.0" width="11.1" height="11.1" fill="#feecd3"/><rect x="556.5" y="336.0" width="11.1" height="11.1" fill="#fee2bb"/><rect x="567.0" y="336.0" width="11.1" height="11.1" fill="#fdca94"/><rect x="577.5" y="336.0" width="11.1" height="11.1" fill="#fca46e"/><rect x="588.0" y="336.0" width="42.6" height="11.1" fill="#fc9f6a"/><rect x="630.0" y="336.0" width="11.1" height="11.1" fill="#f3714d"/><rect x="640.5" y="336.0" width="11.1" height="11.1" fill="#7f0000"/><rect x="178.5" y="346.5" width="21.6" height="11.1" fill="#fff2e1"/><rect x="199.5" y="346.5" width="105.6" height="11.1" fill="#fff4e5"/><rect x="304.5" y="346.5" width="11.1" height="11.1" fill="#fff2e1"/><rect x="315.0" y="346.5" width="11.1" height="11.1" fill="#fff1de"/><rect x="325.5" y="346.5" width="11.1" height="11.1" fill="#feeed6"/><rect x="336.0" y="346.5" width="11.1" height="11.1" fill="#feecd3"/><rect x="346.5" y="346.5" width="11.1" height="11.1" fill="#feeed6"/><rect x="357.0" y="346.5" width="11.1" height="11.1" fill="#fff1de"/><rect x="367.5" y="346.5" width="11.1" height="11.1" fill="#fff2e1"/><rect x="378.0" y="346.5" width="168.6" height="11.1" fill="#fff4e5"/><rect x="546.0" y="346.5" width="11.1" height="11.1" fill="#fff1de"/><rect x="556.5" y="346.5" width="11.1" height="11.1" fill="#feeacc"/><rect x="567.0" y="346.5" width="11.1" height="11.1" fill="#fddaab"/><rect x="577.5" y="346.5" width="11.1" height="11.1" fill="#fdbb84"/><rect x="588.0" y="346.5" width="42.6" height="11.1" fill="#fc9f6a"/><rect x="189.0" y="357.0" width="116.1" height="11.1" fill="#fff4e5"/><rect x="304.5" y="357.0" width="11.1" height="11.1" fill="#fff2e1"/><rect x="315.0" y="357.0" width="11.1" height="11.1" fill="#fef0da"/><rect x="325.5" y="357.0" width="11.1" height="11.1" fill="#feeed6"/><rect x="336.0" y="357.0" width="11.1" height="11.1" fill="#feecd3"/><rect x="346.5" y="357.0" width="11.1" height="11.1" fill="#fef0da"/><rect x="357.0" y="357.0" width="11.1" height="11.1" fill="#fff1de"/><rect x="367.5" y="357.0" width="11.1" height="11.1" fill="#fff2e1"/><rect x="378.0" y="357.0" width="179.1" height="11.1" fill="#fff4e5"/><rect x="556.5" y="357.0" width="11.1" height="11.1" fill="#feeed6"/><rect x="567.0" y="357.0" width="11.1" height="11.1" fill="#fee4c0"/><rect x="577.5" y="357.0" width="11.1" height="11.1" fill="#fdcc96"/><rect x="588.0" y="357.0" width="11.1" height="11.1" fill="#fca46e"/><rect x="598.5" y="357.0" width="11.1" height="11.1" fill="#fc9f6a"/><rect x="189.0" y="367.5" width="105.6" height="11.1" fill="#fff4e5"/><rect x="294.0" y="367.5" width="21.6" height="11.1" fill="#fff2e1"/><rect x="315.0" y="367.5" width="11.1" height="11.1" fill="#fef0da"/><rect x="325.5" y="367.5" width="21.6" height="11.1" fill="#feeed6"/><rect x="346.5" y="367.5" width="11.1" height="11.1" fill="#fef0da"/><rect x="357.0" y="367.5" width="11.1" height="11.1" fill="#fff2e1"/><rect x="367.5" y="367.5" width="189.6" height="11.1" fill="#fff4e5"/><rect x="556.5" y="367.5" width="11.1" height="11.1" fill="#fff1de"/><rect x="567.0" y="367.5" width="11.1" height="11.1" fill="#feebcf"/><rect x="577.5" y="367.5" width="11.1" height="11.1" fill="#fddcaf"/><rect x="199.5" y="378.0" width="95.1" height="11.1" fill="#fff4e5"/><rect x="294.0" y="378.0" width="11.1" height="11.1" fill="#fff2e1"/><rect x="304.5" y="378.0" width="11.1" height="11.1" fill="#fff1de"/><rect x="315.0" y="378.0" width="32.1" height="11.1" fill="#fef0da"/><rect x="346.5" y="378.0" width="11.1" height="11.1" fill="#fff1de"/><rect x="357.0" y="378.0" width="11.1" height="11.1" fill="#fff2e1"/><rect x="367.5" y="378.0" width="200.1" height="11.1" fill="#fff4e5"/><rect x="199.5" y="388.5" width="95.1" height="11.1" fill="#fff4e5"/><rect x="294.0" y="388.5" width="11.1" height="11.1" fill="#fff2e1"/><rect x="304.5" y="388.5" width="11.1" height="11.1" fill="#fff1de"/><rect x="315.0" y="388.5" width="21.6" height="11.1" fill="#fef0da"/><rect x="336.0" y="388.5" width="11.1" height="11.1" fill="#fff1de"/><rect x="346.5" y="388.5" width="84.6" height="11.1" fill="#fff2e1"/><rect x="430.5" y="388.5" width="11.1" height="11.1" fill="#fef0da"/><rect x="441.0" y="388.5" width="21.6" height="11.1" fill="#feeed6"/><rect x="462.0" y="388.5" width="11.1" height="11.1" fill="#fff1de"/><rect x="472.5" y="388.5" width="84.6" height="11.1" fill="#fff4e5"/><rect x="210.0" y="399.0" width="74.1" height="11.1" fill="#fff4e5"/><rect x="283.5" y="399.0" width="21.6" height="11.1" fill="#fff2e1"/><rect x="304.5" y="399.0" width="42.6" height="11.1" fill="#fef0da"/><rect x="346.5" y="399.0" width="42.6" height="11.1" fill="#fff1de"/><rect x="388.5" y="399.0" width="32.1" height="11.1" fill="#fef0da"/><rect x="420.0" y="399.0" width="11.1" height="11.1" fill="#feebcf"/><rect x="430.5" y="399.0" width="11.1" height="11.1" fill="#fee8c8"/><rect x="441.0" y="399.0" width="11.1" height="11.1" fill="#fee2bb"/><rect x="451.5" y="399.0" width="11.1" height="11.1" fill="#fee4c0"/><rect x="462.0" y="399.0" width="11.1" height="11.1" fill="#feebcf"/><rect x="472.5" y="399.0" width="11.1" height="11.1" fill="#fff1de"/><rect x="483.0" y="399.0" width="53.1" height="11.1" fill="#fff4e5"/><rect x="210.0" y="409.5" width="74.1" height="11.1" fill="#fff4e5"/><rect x="283.5" y="409.5" width="11.1" height="11.1" fill="#fff2e1"/><rect x="294.0" y="409.5" width="11.1" height="11.1" fill="#fff1de"/><rect x="304.5" y="409.5" width="11.1" height="11.1" fill="#fef0da"/><rect x="315.0" y="409.5" width="32.1" height="11.1" fill="#feeed6"/><rect x="346.5" y="409.5" width="11.1" height="11.1" fill="#fef0da"/><rect x="357.0" y="409.5" width="32.1" height="11.1" fill="#feeed6"/><rect x="388.5" y="409.5" width="21.6" height="11.1" fill="#feecd3"/><rect x="409.5" y="409.5" width="11.1" height="11.1" fill="#feebcf"/><rect x="420.0" y="409.5" width="11.1" height="11.1" fill="#fee2bb"/><rect x="430.5" y="409.5" width="11.1" height="11.1" fill="#fdd29b"/><rect x="441.0" y="409.5" width="11.1" height="11.1" fill="#fdc58e"/><rect x="451.5" y="409.5" width="11.1" height="11.1" fill="#fdcf99"/><rect x="462.0" y="409.5" width="11.1" height="11.1" fill="#fee2bb"/><rect x="472.5" y="409.5" width="11.1" height="11.1" fill="#feebcf"/><rect x="483.0" y="409.5" width="11.1" height="11.1" fill="#fff1de"/><rect x="493.5" y="409.5" width="21.6" height="11.1" fill="#fff4e5"/><rect x="220.5" y="420.0" width="53.1" height="11.1" fill="#fff4e5"/><rect x="273.0" y="420.0" width="11.1" height="11.1" fill="#fff2e1"/><rect x="283.5" y="420.0" width="11.1" height="11.1" fill="#fff1de"/><rect x="294.0" y="420.0" width="11.1" height="11.1" fill="#fef0da"/><rect x="304.5" y="420.0" width="11.1" height="11.1" fill="#feecd3"/><rect x="315.0" y="420.0" width="21.6" height="11.1" fill="#feebcf"/><rect x="336.0" y="420.0" width="32.1" height="11.1" fill="#feecd3"/><rect x="367.5" y="420.0" width="42.6" height="11.1" fill="#feebcf"/><rect x="409.5" y="420.0" width="11.1" height="11.1" fill="#feeacc"/><rect x="420.0" y="420.0" width="11.1" height="11.1" fill="#fdd6a2"/><rect x="430.5" y="420.0" width="11.1" height="11.1" fill="#fdb27b"/><rect x="441.0" y="420.0" width="11.1" height="11.1" fill="#fc9f6a"/><rect x="451.5" y="420.0" width="11.1" height="11.1" fill="#fdb27b"/><rect x="462.0" y="420.0" width="11.1" height="11.1" fill="#fdd49e"/><rect x="472.5" y="420.0" width="11.1" height="11.1" fill="#fee6c4"/><rect x="483.0" y="420.0" width="11.1" height="11.1" fill="#feeed6"/><rect x="231.0" y="430.5" width="32.1" height="11.1" fill="#fff4e5"/><rect x="262.5" y="430.5" width="21.6" height="11.1" fill="#fff2e1"/><rect x="283.5" y="430.5" width="11.1" height="11.1" fill="#fef0da"/><rect x="294.0" y="430.5" width="11.1" height="11.1" fill="#feecd3"/><rect x="304.5" y="430.5" width="74.1" height="11.1" fill="#feeacc"/><rect x="378.0" y="430.5" width="42.6" height="11.1" fill="#fee8c8"/><rect x="420.0" y="430.5" width="11.1" height="11.1" fill="#fddaab"/><rect x="430.5" y="430.5" width="11.1" height="11.1" fill="#fdbb84"/><rect x="441.0" y="430.5" width="21.6" height="11.1" fill="#fc9f6a"/><rect x="462.0" y="430.5" width="11.1" height="11.1" fill="#fdc28c"/><rect x="231.0" y="441.0" width="21.6" height="11.1" fill="#fff4e5"/><rect x="252.0" y="441.0" width="21.6" height="11.1" fill="#fff2e1"/><rect x="273.0" y="441.0" width="11.1" height="11.1" fill="#fef0da"/><rect x="283.5" y="441.0" width="11.1" height="11.1" fill="#feeed6"/><rect x="294.0" y="441.0" width="11.1" height="11.1" fill="#feebcf"/><rect x="304.5" y="441.0" width="53.1" height="11.1" fill="#fee8c8"/><rect x="357.0" y="441.0" width="11.1" height="11.1" fill="#fee6c4"/><rect x="367.5" y="441.0" width="53.1" height="11.1" fill="#fee4c0"/><rect x="420.0" y="441.0" width="11.1" height="11.1" fill="#fee0b7"/><rect x="430.5" y="441.0" width="11.1" height="11.1" fill="#fdc58e"/><rect x="441.0" y="441.0" width="21.6" height="11.1" fill="#fc9f6a"/><rect x="241.5" y="451.5" width="11.1" height="11.1" fill="#fff2e1"/><rect x="252.0" y="451.5" width="11.1" height="11.1" fill="#fff1de"/><rect x="262.5" y="451.5" width="11.1" height="11.1" fill="#fef0da"/><rect x="273.0" y="451.5" width="11.1" height="11.1" fill="#feeed6"/><rect x="283.5" y="451.5" width="11.1" height="11.1" fill="#feebcf"/><rect x="294.0" y="451.5" width="11.1" height="11.1" fill="#feeacc"/><rect x="304.5" y="451.5" width="21.6" height="11.1" fill="#fee8c8"/><rect x="325.5" y="451.5" width="21.6" height="11.1" fill="#fee6c4"/><rect x="346.5" y="451.5" width="11.1" height="11.1" fill="#fee4c0"/><rect x="357.0" y="451.5" width="11.1" height="11.1" fill="#fee2bb"/><rect x="367.5" y="451.5" width="53.1" height="11.1" fill="#fee0b7"/><rect x="420.0" y="451.5" width="11.1" height="11.1" fill="#fee2bb"/><rect x="430.5" y="451.5" width="11.1" height="11.1" fill="#fdd6a2"/><rect x="241.5" y="462.0" width="11.1" height="11.1" fill="#fef0da"/><rect x="252.0" y="462.0" width="11.1" height="11.1" fill="#feeed6"/><rect x="262.5" y="462.0" width="11.1" height="11.1" fill="#feecd3"/><rect x="273.0" y="462.0" width="11.1" height="11.1" fill="#feebcf"/><rect x="283.5" y="462.0" width="11.1" height="11.1" fill="#feeacc"/><rect x="294.0" y="462.0" width="21.6" height="11.1" fill="#fee8c8"/><rect x="315.0" y="462.0" width="11.1" height="11.1" fill="#fee6c4"/><rect x="325.5" y="462.0" width="11.1" height="11.1" fill="#fee4c0"/><rect x="336.0" y="462.0" width="11.1" height="11.1" fill="#fee2bb"/><rect x="346.5" y="462.0" width="11.1" height="11.1" fill="#fee0b7"/><rect x="357.0" y="462.0" width="53.1" height="11.1" fill="#fedeb3"/><rect x="409.5" y="462.0" width="11.1" height="11.1" fill="#fee0b7"/><rect x="252.0" y="472.5" width="11.1" height="11.1" fill="#feecd3"/><rect x="262.5" y="472.5" width="11.1" height="11.1" fill="#feebcf"/><rect x="273.0" y="472.5" width="11.1" height="11.1" fill="#feeacc"/><rect x="283.5" y="472.5" width="11.1" height="11.1" fill="#fee8c8"/><rect x="294.0" y="472.5" width="11.1" height="11.1" fill="#fee6c4"/><rect x="304.5" y="472.5" width="11.1" height="11.1" fill="#fee4c0"/><rect x="315.0" y="472.5" width="11.1" height="11.1" fill="#fee2bb"/><rect x="325.5" y="472.5" width="11.1" height="11.1" fill="#fee0b7"/><rect x="336.0" y="472.5" width="63.6" height="11.1" fill="#fedeb3"/><rect x="252.0" y="483.0" width="21.6" height="11.1" fill="#feeacc"/><rect x="273.0" y="483.0" width="11.1" height="11.1" fill="#fee8c8"/><rect x="283.5" y="483.0" width="11.1" height="11.1" fill="#fee6c4"/><rect x="294.0" y="483.0" width="11.1" height="11.1" fill="#fee2bb"/><rect x="304.5" y="483.0" width="21.6" height="11.1" fill="#fee0b7"/><rect x="325.5" y="483.0" width="53.1" height="11.1" fill="#fedeb3"/><rect x="262.5" y="493.5" width="11.1" height="11.1" fill="#fee6c4"/><rect x="273.0" y="493.5" width="11.1" height="11.1" fill="#fee4c0"/><rect x="283.5" y="493.5" width="11.1" height="11.1" fill="#fee2bb"/><rect x="294.0" y="493.5" width="11.1" height="11.1" fill="#fee0b7"/><rect x="304.5" y="493.5" width="63.6" height="11.1" fill="#fedeb3"/><rect x="262.5" y="504.0" width="11.1" height="11.1" fill="#fee2bb"/><rect x="273.0" y="504.0" width="11.1" height="11.1" fill="#fee0b7"/><rect x="283.5" y="504.0" width="63.6" height="11.1" fill="#fedeb3"/><rect x="273.0" y="514.5" width="53.1" height="11.1" fill="#fedeb3"/><rect x="283.5" y="525.0" width="21.6" height="11.1" fill="#fedeb3"/></g>
<g fill="none" stroke="#000" stroke-width="0.85" stroke-linejoin="round"><path d="M385.0,114.2 L389.6,112.9 L395.2,114.2 L396.1,118.8 L397.0,121.6 L394.3,122.6 L390.5,120.7 L386.8,117.9 Z"/><path d="M375.7,128.1 L377.5,127.2 L379.0,130.0 L379.8,133.7 L379.0,136.5 L376.6,135.5 L375.3,131.8 Z"/><path d="M380.3,144.8 L384.0,143.3 L391.5,143.3 L392.8,144.8 L389.6,146.7 L382.2,147.2 Z"/><path d="M417.5,104.9 L423.0,103.1 L424.9,104.0 L424.0,107.7 L421.2,108.6 L418.4,106.8 Z"/><path d="M415.6,139.3 L418.4,137.4 L422.1,137.0 L424.0,139.3 L421.2,143.0 L417.5,146.7 L414.7,148.5 L414.3,144.8 Z"/><path d="M420.0,444.3 L415.8,442.8 L409.9,439.8 L404.0,441.3 L398.0,443.5 L393.6,447.2 L390.6,453.2 L387.6,457.6 L383.2,459.1 L377.2,460.6 L368.3,460.6 L366.8,456.1 L365.3,451.7 L362.4,451.7 L357.9,456.1 L359.4,451.7 L358.7,445.7 L355.0,443.5 L349.0,442.8 L346.0,445.7 L344.6,450.2 L343.1,444.3 L341.6,439.8 L340.1,433.9 L340.1,427.2 L341.6,422.0 L346.0,419.0 L353.5,414.6 L359.4,410.1 L363.1,405.6 L361.6,401.2 L357.9,396.0 L352.0,392.3 L344.6,390.8 L340.8,389.3 L341.6,386.3 L339.4,384.1 L337.1,389.3 L338.6,396.7 L340.1,405.6 L337.1,410.8 L331.9,411.6 L328.2,408.6 L326.7,402.7 L323.8,398.2 L319.3,393.8 L320.8,388.6 L317.8,385.6 L315.6,386.3 L314.9,390.8 L311.9,392.3 L308.9,387.8 L306.7,378.9 L305.9,370.0 L304.8,364.2 L302.9,359.2 L299.8,355.5 L298.6,350.5 L301.0,346.8 L300.4,340.6 L299.2,335.7 L297.3,330.7 L297.3,324.6 L294.9,320.8 L292.4,320.2 L289.9,320.8 L289.3,312.2 L289.3,304.8 L289.9,298.6 L291.8,295.5 L294.9,294.2 L298.6,294.2 L299.8,294.9 L298.6,298.6 L299.8,302.3 L303.5,304.1 L306.0,306.0 L309.7,309.7 L311.6,314.0 L316.5,315.9 L322.7,315.9 L326.4,312.8 L328.3,307.2 L327.0,302.3 L323.3,292.4 L320.8,280.0 L321.0,286.0 L325.0,270.0 L330.0,260.0 L330.3,244.0 L328.5,229.0 L325.6,224.0 L328.4,215.4 L329.3,208.0 L331.1,198.7 L333.9,189.4 L336.7,178.2 L337.6,170.8 L338.6,165.2 L344.1,164.3 L349.7,163.4 L352.5,159.7 L355.3,159.3 L358.1,162.5 L360.8,163.4 L365.5,160.6 L370.1,159.3 L373.8,159.7 L381.3,163.4 L390.5,168.0 L401.7,174.5 L402.6,178.2 L407.2,178.2 L414.7,180.1 L421.2,180.1 L426.7,177.3 L430.5,172.7 L432.3,167.1 L435.1,165.2 L437.9,166.7 L442.5,172.7 L443.4,178.2 L440.7,183.8 L435.1,189.4 L433.2,196.8 L433.2,208.0 L435.1,219.1 L435.7,225.6 L439.4,234.9 L445.9,237.6 L449.6,239.5 L450.5,246.0 L454.3,249.7 L456.1,252.5 L454.3,257.1 L451.5,264.6 L447.8,273.8 L443.1,281.3 L438.5,286.8 L436.6,294.3 L437.5,299.8 L433.8,303.5 L430.1,305.4 L426.4,309.1 L417.1,309.5 L409.7,311.9 L404.1,316.5 L398.6,322.1 L397.6,327.7 L399.8,331.7 L401.8,337.6 L397.8,343.6 L391.9,349.5 L387.9,355.4 L387.9,361.4 L391.9,367.3 L395.8,375.2 L399.8,383.2 L401.8,391.1 L405.7,394.1 L401.8,395.0 L399.8,399.0 L401.8,406.9 L405.7,416.8 L409.7,424.8 L413.7,432.7 L421.6,438.6 L429.7,441.6 L434.7,442.4 L437.7,440.9 L440.8,426.1 L442.7,429.8 L444.6,426.1 L446.4,421.1 L449.5,418.7 L454.5,417.4 L459.4,418.7 L464.4,417.4 L469.3,419.9 L474.3,422.4 L479.2,426.1 L484.2,431.0 L486.6,436.0 L489.1,442.2 L487.9,447.1 L489.1,452.1 L494.1,453.3 L498.7,452.9 L502.1,448.5 L500.4,443.3 L496.9,438.1 L498.7,433.8 L503.0,432.9 L505.6,436.4 L509.1,441.6 L514.3,442.5 L519.5,440.7 L523.8,440.7 L527.3,444.2 L531.6,446.8 L536.8,449.4 L542.0,453.7 L538.5,455.4 L533.3,453.7 L526.4,456.3 L521.2,454.6 L517.7,455.4 L516.0,460.6 L519.5,467.6 L524.7,472.8 L529.9,477.1 L531.6,484.9 L529.9,490.1 L535.1,490.1 L542.0,493.6 L548.9,495.3 L554.1,494.4 L555.0,498.8 L550.6,504.0 L548.9,512.6 L550.6,521.3 L545.4,524.8 L540.3,521.3 L535.1,512.6 L529.9,505.7 L524.7,504.0 L517.7,500.5 L510.8,497.0 L502.1,491.8 L502.1,483.2 L496.9,472.8 L490.0,469.3 L485.4,464.5 L480.4,462.0 L475.5,459.5 L474.3,457.0 L471.8,452.1 L469.3,449.0 L464.4,447.1 L460.6,444.7 L456.9,440.9 L453.2,440.3 L449.5,440.9 L452.0,444.7 L453.2,449.6 L454.5,454.6 L456.9,462.0 L459.4,468.2 L463.1,475.6 L465.0,481.2 L463.1,486.1 L459.4,486.7 L455.7,483.0 L453.2,476.8 L450.7,471.9 L447.0,466.9 L443.3,462.0 L439.6,459.5 L434.7,455.8 L429.7,450.8 L424.8,449.6 L420.0,444.3 Z"/><path d="M298.6,298.6 L301.7,296.1 L304.1,297.9 L304.8,302.3 L302.3,304.1 L299.2,302.9 Z"/><path d="M308.9,447.2 L311.9,445.7 L316.3,448.8 L319.3,451.7 L320.8,456.1 L317.8,456.9 L313.4,453.2 L309.7,450.9 Z"/><path d="M413.7,375.2 L419.6,374.3 L425.5,376.2 L427.5,379.2 L424.6,381.2 L424.6,387.1 L425.5,395.0 L422.6,399.0 L418.6,397.0 L418.6,389.1 L415.6,383.2 L413.7,379.2 Z"/><path d="M431.0,388.0 L435.0,387.5 L439.0,391.0 L436.0,393.0 L432.0,391.0 Z"/><path d="M443.4,395.5 L447.0,394.5 L449.3,396.0 L446.0,397.5 Z"/><path d="M428.0,301.7 L432.9,302.5 L432.0,309.1 L427.3,313.7 L424.6,315.6 L426.4,311.0 Z"/><path d="M420.4,424.9 L422.3,424.9 L428.5,429.8 L435.9,434.8 L440.8,437.8 L439.6,439.1 L433.4,436.0 L424.8,431.0 L419.8,427.3 Z"/><path d="M550.6,434.7 L555.8,432.1 L559.3,434.7 L562.8,441.6 L568.0,443.3 L568.8,452.0 L566.2,458.9 L562.8,462.4 L559.3,465.8 L554.1,465.0 L548.9,460.6 L546.3,457.2 L549.8,452.0 L550.6,443.3 Z"/><path d="M533.3,477.0 L538.0,476.2 L540.3,480.0 L537.0,483.2 L534.0,481.0 Z"/><path d="M543.7,482.0 L550.0,481.4 L557.6,484.0 L555.0,486.6 L547.0,485.5 Z"/><path d="M322.0,469.9 L325.9,466.9 L339.8,468.9 L359.6,467.9 L362.6,466.9 L365.5,470.9 L373.5,471.9 L381.4,477.8 L389.3,485.7 L397.2,491.7 L394.3,499.6 L394.3,507.5 L397.2,517.4 L395.2,525.3 L389.3,533.3 L387.3,539.2 L381.4,541.2 L375.4,545.1 L371.5,543.2 L367.5,539.2 L359.6,527.3 L355.6,519.4 L351.7,511.5 L349.7,499.6 L343.8,487.7 L335.8,481.8 L330.9,475.8 L324.0,473.9 Z"/><path d="M367.5,545.0 L371.5,546.0 L372.5,549.1 L368.5,550.1 L366.5,547.2 Z"/><path d="M415.0,465.9 L419.0,464.0 L424.9,465.0 L429.9,467.9 L431.9,473.9 L428.9,481.8 L425.0,484.8 L419.0,481.8 L415.0,477.8 L413.1,471.9 Z"/><path d="M423.0,521.4 L430.9,518.4 L433.9,519.4 L430.9,527.3 L428.9,539.2 L426.9,547.1 L425.0,551.1 L422.0,547.1 L420.0,539.2 L421.0,531.3 Z"/><path d="M439.5,521.4 L442.0,521.8 L442.8,526.0 L441.0,529.3 L438.8,527.0 Z"/><path d="M450.7,531.3 L456.6,528.9 L462.6,529.3 L465.5,534.3 L462.6,540.2 L458.6,539.2 L454.7,535.2 L449.7,533.3 Z"/><path d="M385.3,551.0 L388.0,552.0 L389.3,558.0 L386.5,559.0 Z"/><path d="M389.3,566.5 L393.0,566.0 L395.2,567.5 L391.0,568.5 Z"/><path d="M481.0,491.1 L484.8,489.3 L488.5,492.4 L490.9,498.6 L495.9,503.5 L499.6,506.0 L503.3,509.7 L506.4,515.9 L504.6,515.3 L500.8,510.9 L497.1,508.5 L492.2,504.8 L487.2,499.8 L483.5,496.1 L481.0,493.6 Z"/><path d="M519.4,517.1 L521.9,516.5 L526.8,520.8 L529.3,527.0 L531.2,532.0 L531.8,536.9 L529.9,536.3 L526.8,530.7 L523.1,525.8 L520.0,520.8 Z"/><path d="M498.4,522.1 L502.1,523.3 L505.8,526.4 L512.0,527.0 L516.9,532.0 L520.6,535.7 L526.8,539.4 L531.8,544.4 L539.2,546.8 L544.2,554.3 L546.6,559.2 L547.9,566.6 L548.5,574.1 L545.4,572.8 L540.4,569.1 L534.3,566.6 L528.1,561.7 L524.4,556.7 L519.4,551.8 L512.0,546.8 L507.0,545.6 L503.3,550.5 L499.6,556.7 L494.7,561.7 L493.4,558.0 L497.1,551.8 L499.6,544.4 L498.4,539.4 L497.1,532.0 L498.4,527.0 Z"/><path d="M551.6,530.0 L554.0,529.5 L555.3,533.0 L553.0,534.5 Z"/><path d="M553.4,554.0 L556.0,553.0 L557.8,554.5 L555.0,555.5 Z"/><path d="M560.4,524.2 L563.9,523.3 L576.0,525.9 L596.8,525.9 L598.5,522.5 L607.2,524.2 L614.1,523.3 L621.0,529.4 L624.5,535.4 L623.6,539.8 L629.7,542.4 L636.6,546.7 L634.0,552.8 L634.9,558.0 L633.2,568.4 L632.3,573.6 L634.9,584.0 L640.1,592.6 L641.8,601.3 L645.3,605.6 L648.8,610.8 L650.5,616.0 L647.0,615.1 L643.6,610.8 L638.4,602.1 L636.6,607.3 L629.7,609.1 L624.5,610.8 L617.6,609.1 L612.4,603.9 L605.4,602.1 L603.7,595.2 L600.2,590.0 L596.8,585.7 L591.6,582.2 L588.1,577.0 L589.8,575.3 L595.0,578.8 L600.2,580.5 L605.4,578.8 L607.2,574.4 L602.0,570.1 L596.8,566.6 L591.6,563.2 L586.4,559.7 L579.5,552.8 L572.5,547.6 L567.3,540.6 L562.1,532.0 Z"/><path d="M565.6,578.8 L574.3,577.0 L579.5,580.5 L581.2,585.7 L577.7,589.2 L570.8,587.4 Z"/><path d="M563.9,590.0 L566.5,596.9 L569.1,603.9 L568.2,612.5 L569.1,619.5 L572.5,622.9 L576.0,621.2 L577.7,618.6 L582.9,619.5 L588.1,624.7 L589.8,631.6 L589.8,642.0 L589.0,648.9 L589.8,655.8 L591.6,662.8 L596.8,669.7 L602.0,674.9 L605.4,679.0"/><path d="M603.7,595.2 L605.4,602.1 L607.2,617.7 L605.4,624.7 L608.9,635.1 L614.1,642.0 L617.6,648.9 L617.6,659.3 L614.1,666.2 L610.6,673.2 L612.4,679.0"/><path d="M524.0,642.0 L530.9,629.9 L537.9,621.2 L541.3,612.5 L542.2,605.6 L544.8,602.1 L548.3,603.0 L548.3,609.1 L545.7,614.3 L546.5,624.7 L545.7,642.0 L544.8,655.8 L545.7,659.3 L541.3,662.8 L534.4,666.2 L524.0,671.4"/><path d="M538.6,616.2 L531.7,633.6 L526.5,647.4 L521.3,661.3 L514.4,675.2 L510.9,679.0"/><path d="M525.7,601.0 L530.0,600.4 L533.5,607.0 L530.0,609.1 L527.0,606.0 Z"/><path d="M561.3,637.0 L566.0,635.0 L568.0,640.0 L563.0,642.0 Z"/><path d="M569.0,636.0 L574.0,635.0 L576.0,639.0 L571.0,641.0 Z"/><path d="M548.3,679.0 L555.2,669.7 L565.6,668.8 L572.5,671.4 L577.7,669.7 L579.5,673.2 L576.0,679.0"/><path d="M645.3,631.0 L650.0,629.0 L654.0,633.0 L651.0,636.8 L647.0,635.0 Z"/><path d="M642.8,649.9 L645.2,652.4 L645.7,656.8 L643.8,662.8 L645.2,668.7 L646.2,673.7 L646.2,679.0 L639.3,679.0 L639.8,674.7 L635.8,674.2 L633.9,669.7 L635.8,664.8 L634.9,659.8 L637.8,655.8 L641.3,653.9"/><path d="M417.3,566.0 L420.8,562.5 L426.0,563.4 L434.7,568.6 L445.0,574.7 L452.0,579.0 L460.6,584.2 L464.1,581.6 L471.0,581.6 L478.0,585.9 L481.4,590.3 L490.1,585.1 L493.6,582.5 L494.4,590.3 L491.8,600.6 L490.1,607.6 L483.2,612.8 L476.2,618.0 L471.0,624.9 L469.3,630.1 L460.6,635.3 L446.8,637.0 L434.7,638.8 L426.0,644.0 L422.5,651.8 L419.9,647.4 L420.8,633.6 L426.0,619.7 L428.6,605.8 L430.3,590.3 L429.5,576.4 L422.5,572.9 L416.5,571.2 Z"/><path d="M457.2,637.0 L462.4,632.7 L466.7,634.4 L467.6,644.0 L464.1,647.4 L458.9,650.9 L453.7,648.3 L455.4,642.2 Z"/><path d="M470.2,679.0 L474.5,666.5 L476.2,652.6 L474.5,644.0 L478.0,633.6 L483.2,624.9 L490.1,619.7 L498.8,618.8 L507.4,621.4 L516.1,624.9 L519.6,631.8 L514.4,644.0 L509.2,654.4 L505.7,664.8 L502.2,679.0"/><path d="M526.5,601.0 L531.0,600.6 L533.4,606.0 L530.0,609.3 Z"/><path d="M296.5,538.8 L299.1,537.9 L301.8,540.6 L308.8,544.1 L314.1,547.6 L316.8,545.9 L319.4,549.4 L322.9,552.1 L324.7,556.5 L321.2,558.2 L317.6,556.5 L314.1,558.2 L308.8,556.5 L303.5,552.9 L300.0,549.4 L296.5,547.6 L295.6,542.4 Z"/><path d="M295.6,560.9 L300.0,559.1 L303.5,562.6 L307.1,567.1 L308.8,572.4 L305.3,575.9 L301.8,577.6 L300.0,572.4 L296.5,567.1 Z"/><path d="M316.8,560.9 L321.2,560.0 L320.3,567.9 Z"/><path d="M287.6,590.0 L292.0,587.3 L296.5,589.0 L294.0,595.3 L289.0,594.0 Z"/><path d="M252.4,679.0 L255.9,671.2 L261.2,664.1 L266.5,658.8 L271.8,657.1 L277.1,655.3 L284.1,651.8 L287.6,647.3 L284.1,644.7 L282.3,639.4 L280.6,635.9 L277.1,632.3 L275.3,625.3 L276.2,618.2 L279.7,616.5 L277.1,609.4 L277.9,604.1 L276.2,595.3 L273.5,592.6 L270.9,598.8 L269.1,605.9 L267.3,609.4 L265.6,614.7 L264.7,620.0 L262.9,622.6 L259.4,621.8 L257.6,622.6 L260.3,627.1 L262.9,630.6 L263.8,635.9 L261.2,641.2 L259.4,646.5 L255.9,648.2 L250.6,651.8 L247.1,656.2 L241.8,660.6 L236.5,665.9 L231.2,671.2 L227.6,679.0"/><path d="M257.6,621.8 L261.2,623.5 L266.5,627.1 L271.8,632.3 L270.9,634.1 L264.7,630.6 L259.4,626.2 Z"/><path d="M289.4,645.0 L295.0,640.0 L300.0,639.5 L305.3,643.0 L301.0,648.0 L293.0,651.8 L289.4,649.0 Z"/><path d="M278.5,607.0 L281.0,606.5 L282.0,610.0 L279.0,611.0 Z"/><path d="M280.0,614.0 L283.0,613.0 L283.5,618.0 L280.5,618.0 Z"/></g>
<line x1="64.6" y1="318.4" x2="664.6" y2="318.4" stroke="#5a5a5a" stroke-width="1.15" stroke-dasharray="1.5,2.14"/>
<line x1="424.4" y1="678.4" x2="424.4" y2="78.5" stroke="#5a5a5a" stroke-width="1.15" stroke-dasharray="1.5,2.14"/>
<path fill="#000" d="M93.0,78.5 L89.1,79.9 L89.3,78.1 L83.8,82.5 L90.8,82.5 L89.6,81.2 L93.4,79.9ZM167.7,83.5 L154.6,88.7 L154.7,87.0 L149.4,91.6 L156.4,91.3 L155.2,90.1 L168.3,84.9ZM173.8,78.5 L167.1,80.8 L167.3,79.1 L161.8,83.4 L168.8,83.4 L167.6,82.2 L174.2,79.9ZM260.1,97.3 L246.1,102.7 L246.2,101.0 L240.9,105.5 L247.9,105.3 L246.7,104.1 L260.7,98.7ZM275.1,98.1 L260.6,102.9 L260.7,101.2 L255.2,105.5 L262.2,105.6 L261.0,104.3 L275.5,99.5ZM77.3,132.3 L70.3,135.5 L70.3,133.8 L65.2,138.6 L72.2,138.0 L70.9,136.8 L77.9,133.7ZM98.4,142.4 L87.7,147.2 L87.7,145.5 L82.6,150.3 L89.6,149.7 L88.3,148.6 L99.0,143.8ZM266.0,132.4 L250.4,138.6 L250.5,136.9 L245.2,141.5 L252.2,141.2 L250.9,140.0 L266.6,133.8ZM148.6,160.3 L139.0,166.2 L138.8,164.5 L134.4,169.9 L141.2,168.4 L139.8,167.4 L149.4,161.5ZM201.5,161.6 L189.8,169.4 L189.5,167.7 L185.3,173.3 L192.1,171.5 L190.6,170.6 L202.3,162.8ZM166.3,175.7 L156.3,182.9 L155.9,181.2 L151.9,186.9 L158.6,184.9 L157.1,184.1 L167.1,176.9ZM136.6,193.0 L128.9,198.9 L128.5,197.2 L124.6,203.0 L131.2,200.8 L129.7,200.0 L137.4,194.2ZM306.8,178.6 L294.4,185.8 L294.2,184.1 L289.7,189.4 L296.6,188.1 L295.2,187.1 L307.6,179.8ZM265.8,200.6 L258.0,208.7 L257.4,207.1 L254.5,213.5 L260.7,210.3 L259.1,209.7 L266.8,201.6ZM367.8,83.1 L355.8,86.7 L356.1,85.0 L350.4,89.1 L357.4,89.4 L356.3,88.1 L368.2,84.5ZM340.5,113.1 L327.5,114.4 L328.0,112.8 L321.7,115.7 L328.5,117.3 L327.6,115.8 L340.7,114.5ZM365.0,118.5 L353.2,118.5 L353.9,116.9 L347.3,119.2 L353.9,121.5 L353.2,119.9 L365.0,119.9ZM491.5,93.1 L484.4,95.7 L484.5,94.0 L479.1,98.4 L486.1,98.3 L484.9,97.1 L491.9,94.5ZM437.9,121.5 L430.2,121.5 L430.9,119.9 L424.3,122.2 L430.9,124.5 L430.2,122.9 L437.9,122.9ZM438.4,164.5 L430.2,163.4 L431.1,162.0 L424.3,163.4 L430.6,166.5 L430.1,164.9 L438.2,165.9ZM452.2,164.9 L445.1,164.7 L445.9,163.1 L439.2,165.2 L445.7,167.7 L445.1,166.1 L452.2,166.3ZM368.9,209.9 L366.8,210.1 L367.3,208.5 L361.0,211.5 L367.8,213.0 L366.9,211.6 L369.1,211.3ZM533.7,83.8 L528.3,86.3 L528.3,84.6 L523.3,89.5 L530.3,88.8 L529.0,87.7 L534.3,85.2ZM541.5,113.6 L537.1,115.8 L537.0,114.1 L532.2,119.2 L539.1,118.2 L537.8,117.1 L542.1,114.8ZM535.1,123.7 L530.0,125.3 L530.2,123.6 L524.6,127.7 L531.6,128.0 L530.5,126.7 L535.5,125.1ZM611.7,134.9 L608.4,136.5 L608.4,134.8 L603.5,139.8 L610.4,138.9 L609.1,137.8 L612.3,136.1ZM635.7,141.1 L632.1,142.9 L632.0,141.2 L627.2,146.3 L634.1,145.3 L632.8,144.2 L636.3,142.3ZM598.6,184.0 L593.6,185.8 L593.7,184.1 L588.3,188.5 L595.3,188.4 L594.1,187.2 L599.0,185.4ZM575.1,207.6 L569.5,209.3 L569.7,207.6 L564.1,211.7 L571.1,212.0 L570.0,210.7 L575.5,209.0ZM666.7,192.4 L664.1,193.8 L663.9,192.0 L659.2,197.2 L666.1,196.1 L664.7,195.0 L667.3,193.6ZM113.7,231.5 L105.8,237.3 L105.4,235.6 L101.5,241.4 L108.2,239.3 L106.7,238.5 L114.5,232.7ZM233.7,241.7 L231.9,247.3 L230.6,246.1 L230.7,253.1 L235.0,247.6 L233.2,247.7 L235.1,242.1ZM68.2,252.5 L67.7,252.8 L67.5,251.9 L64.9,255.5 L69.3,254.6 L68.4,254.1 L69.0,253.7ZM138.3,280.0 L133.9,284.9 L133.2,283.3 L130.5,289.8 L136.6,286.4 L135.0,285.9 L139.3,281.0ZM94.7,297.4 L90.3,301.2 L89.8,299.6 L86.3,305.6 L92.8,303.1 L91.3,302.3 L95.7,298.6ZM164.8,300.2 L162.8,306.1 L161.5,304.9 L161.5,311.9 L165.8,306.4 L164.1,306.6 L166.2,300.6ZM210.9,280.3 L209.1,285.7 L207.8,284.5 L207.9,291.5 L212.2,286.0 L210.5,286.1 L212.3,280.7ZM210.9,291.8 L209.5,296.5 L208.2,295.3 L208.4,302.3 L212.6,296.7 L210.8,296.9 L212.3,292.2ZM174.1,329.5 L172.7,334.4 L171.3,333.3 L171.7,340.3 L175.8,334.6 L174.1,334.8 L175.5,329.9ZM278.4,331.5 L277.4,333.1 L276.4,331.7 L274.9,338.5 L280.3,334.1 L278.6,333.9 L279.6,332.3ZM293.2,362.4 L290.0,361.2 L291.2,360.0 L284.2,359.8 L289.6,364.3 L289.5,362.6 L292.6,363.8ZM222.7,359.9 L221.3,362.5 L220.2,361.2 L219.2,368.1 L224.3,363.3 L222.6,363.2 L223.9,360.5ZM305.1,312.7 L304.3,312.6 L305.0,311.5 L299.4,312.5 L304.4,315.2 L304.1,314.0 L304.9,314.1ZM330.9,226.9 L330.0,227.0 L330.5,225.6 L325.0,228.2 L330.9,229.6 L330.2,228.4 L331.1,228.3ZM326.4,313.1 L325.6,313.2 L325.9,312.2 L321.5,314.8 L326.6,315.5 L325.9,314.7 L326.6,314.5ZM379.4,256.8 L378.7,256.9 L379.1,255.9 L374.5,258.0 L379.4,259.2 L378.8,258.3 L379.6,258.2ZM380.1,277.9 L379.5,278.3 L379.5,277.3 L376.5,281.0 L381.2,280.0 L380.3,279.5 L380.9,279.1ZM394.8,297.8 L394.3,297.6 L395.0,296.9 L391.0,297.0 L393.7,299.9 L393.7,298.9 L394.2,299.2ZM413.9,308.5 L413.1,308.6 L413.4,307.6 L409.0,310.2 L414.1,310.9 L413.4,310.1 L414.1,309.9ZM420.4,247.3 L419.6,247.4 L420.0,246.4 L415.5,248.8 L420.5,249.7 L419.9,248.8 L420.6,248.7ZM491.5,250.5 L488.4,251.2 L488.8,249.5 L482.8,253.1 L489.7,254.0 L488.7,252.6 L491.9,251.9ZM493.7,287.6 L490.7,289.0 L490.7,287.2 L485.6,292.0 L492.6,291.4 L491.3,290.3 L494.3,289.0ZM484.4,314.5 L480.2,316.3 L480.2,314.6 L475.0,319.3 L482.0,318.8 L480.7,317.7 L485.0,315.9ZM384.6,342.8 L380.4,343.8 L380.7,342.1 L374.8,345.9 L381.8,346.6 L380.7,345.2 L385.0,344.2ZM451.3,364.7 L445.2,367.5 L445.2,365.8 L440.1,370.6 L447.1,370.0 L445.8,368.8 L451.9,366.1ZM517.5,233.2 L514.3,234.1 L514.5,232.4 L508.8,236.4 L515.8,236.8 L514.7,235.5 L517.9,234.6ZM610.7,259.8 L604.7,261.9 L604.8,260.2 L599.4,264.6 L606.4,264.6 L605.2,263.3 L611.1,261.2ZM661.3,256.1 L654.2,259.3 L654.2,257.5 L649.1,262.3 L656.1,261.7 L654.8,260.6 L661.9,257.5ZM575.4,271.5 L568.1,274.0 L568.3,272.3 L562.8,276.6 L569.8,276.6 L568.6,275.4 L575.8,272.9ZM577.4,309.0 L569.7,312.3 L569.7,310.5 L564.5,315.2 L571.5,314.8 L570.2,313.6 L578.0,310.4ZM537.3,317.7 L531.1,320.8 L531.0,319.0 L526.1,324.0 L533.0,323.2 L531.7,322.1 L537.9,319.1ZM614.2,354.2 L607.1,359.1 L606.8,357.4 L602.7,363.1 L609.4,361.2 L608.0,360.3 L615.0,355.4ZM607.3,364.2 L600.5,369.1 L600.2,367.4 L596.2,373.2 L602.9,371.2 L601.4,370.3 L608.1,365.4ZM91.2,381.0 L89.3,384.5 L88.2,383.2 L87.2,390.1 L92.3,385.3 L90.6,385.2 L92.4,381.6ZM124.9,380.0 L124.1,383.2 L122.8,382.1 L123.4,389.1 L127.2,383.2 L125.5,383.5 L126.3,380.4ZM98.9,391.6 L97.5,395.1 L96.3,393.8 L95.9,400.8 L100.6,395.6 L98.8,395.6 L100.3,392.2ZM180.8,373.2 L179.1,377.5 L177.9,376.2 L177.6,383.2 L182.2,377.9 L180.5,378.0 L182.2,373.8ZM197.3,390.3 L196.3,392.7 L195.1,391.4 L194.5,398.4 L199.3,393.3 L197.6,393.3 L198.7,390.9ZM145.0,421.0 L143.9,423.7 L142.7,422.4 L142.3,429.4 L147.0,424.2 L145.3,424.2 L146.4,421.6ZM69.0,444.1 L67.8,445.6 L67.0,444.1 L64.9,450.8 L70.7,446.9 L69.0,446.5 L70.2,444.9ZM112.0,489.5 L108.6,494.4 L107.7,492.9 L105.8,499.6 L111.5,495.5 L109.8,495.2 L113.2,490.3ZM154.4,516.5 L150.3,522.2 L149.5,520.7 L147.5,527.4 L153.2,523.4 L151.5,523.0 L155.6,517.3ZM254.4,436.2 L250.0,439.3 L249.7,437.6 L245.6,443.3 L252.3,441.4 L250.8,440.5 L255.2,437.4ZM283.1,432.2 L272.7,433.3 L273.2,431.6 L266.9,434.6 L273.7,436.2 L272.8,434.7 L283.3,433.6ZM311.4,428.9 L301.7,430.6 L302.1,429.0 L296.0,432.4 L302.9,433.5 L301.9,432.1 L311.6,430.3ZM236.6,465.7 L232.9,470.4 L232.1,468.9 L229.8,475.5 L235.7,471.8 L234.0,471.3 L237.8,466.7ZM352.1,436.3 L348.6,437.2 L348.9,435.5 L343.0,439.3 L350.0,439.9 L348.9,438.6 L352.5,437.7ZM341.5,485.3 L340.9,486.1 L340.1,484.6 L338.0,491.2 L343.7,487.3 L342.1,487.0 L342.7,486.1ZM378.7,382.9 L372.2,384.9 L372.4,383.2 L366.8,387.3 L373.8,387.6 L372.7,386.3 L379.1,384.3ZM491.7,374.9 L486.0,377.6 L486.0,375.9 L481.0,380.8 L487.9,380.1 L486.6,378.9 L492.3,376.3ZM427.6,401.5 L421.4,405.7 L421.1,404.0 L416.9,409.6 L423.7,407.8 L422.2,406.9 L428.4,402.7ZM470.4,430.6 L465.9,432.7 L465.9,431.0 L460.9,435.9 L467.9,435.2 L466.5,434.0 L471.0,432.0ZM429.6,440.5 L428.7,440.9 L428.7,439.4 L424.3,443.9 L430.6,443.1 L429.4,442.2 L430.2,441.7ZM474.9,464.7 L472.9,466.4 L472.4,464.7 L468.9,470.8 L475.4,468.2 L473.8,467.5 L475.9,465.7ZM414.5,493.5 L409.4,498.6 L408.8,497.0 L405.8,503.3 L412.1,500.2 L410.5,499.6 L415.5,494.5ZM482.3,493.4 L478.6,496.6 L478.1,494.9 L474.5,500.9 L481.0,498.4 L479.5,497.7 L483.3,494.6ZM493.6,516.6 L487.3,520.7 L487.0,519.0 L482.8,524.6 L489.6,522.9 L488.1,522.0 L494.4,517.8ZM546.1,415.5 L539.8,419.6 L539.5,417.9 L535.3,423.5 L542.1,421.8 L540.6,420.9 L546.9,416.7ZM571.4,429.1 L563.0,438.2 L562.3,436.6 L559.5,443.0 L565.7,439.7 L564.0,439.2 L572.4,430.1ZM521.0,451.7 L520.4,452.1 L520.3,451.1 L517.7,455.0 L522.2,453.7 L521.3,453.3 L521.8,452.9ZM533.4,496.4 L533.0,497.1 L532.3,496.1 L531.1,501.4 L535.4,498.0 L534.2,497.9 L534.6,497.2ZM605.8,510.1 L601.5,513.8 L601.0,512.2 L597.5,518.2 L604.0,515.7 L602.5,514.9 L606.8,511.3ZM113.9,529.1 L110.0,534.3 L109.2,532.8 L107.1,539.5 L112.9,535.6 L111.2,535.2 L115.1,529.9ZM205.9,535.5 L204.1,539.4 L203.0,538.1 L202.3,545.1 L207.2,540.1 L205.4,540.0 L207.3,536.1ZM112.1,563.3 L107.9,567.5 L107.3,565.9 L104.3,572.2 L110.6,569.1 L109.0,568.5 L113.1,564.3ZM179.5,560.4 L176.4,563.3 L175.8,561.7 L172.6,567.9 L179.0,565.0 L177.4,564.4 L180.5,561.4ZM202.4,564.6 L200.6,566.7 L199.9,565.1 L197.3,571.6 L203.4,568.1 L201.7,567.6 L203.4,565.6ZM78.1,602.6 L72.6,606.3 L72.3,604.6 L68.1,610.2 L74.9,608.4 L73.4,607.5 L78.9,603.8ZM197.3,603.5 L194.6,605.1 L194.4,603.4 L189.9,608.8 L196.7,607.4 L195.3,606.4 L198.1,604.7ZM168.6,620.7 L163.7,623.2 L163.6,621.4 L158.7,626.4 L165.6,625.6 L164.3,624.5 L169.2,622.1ZM134.1,636.0 L129.0,638.9 L128.9,637.2 L124.3,642.5 L131.2,641.2 L129.8,640.2 L134.9,637.2ZM220.2,638.8 L212.8,642.6 L212.7,640.8 L207.9,645.9 L214.8,644.9 L213.5,643.8 L220.8,640.0ZM213.7,649.0 L205.9,653.2 L205.7,651.4 L201.0,656.6 L207.9,655.5 L206.5,654.4 L214.3,650.2ZM137.6,672.6 L131.4,675.1 L131.5,673.4 L126.2,678.0 L133.2,677.7 L131.9,676.5 L138.2,674.0ZM239.3,534.4 L238.6,537.9 L237.2,536.9 L238.1,543.8 L241.7,537.8 L240.0,538.2 L240.7,534.6ZM358.4,551.2 L352.9,555.1 L352.6,553.5 L348.6,559.2 L355.3,557.2 L353.8,556.3 L359.2,552.4ZM312.9,571.0 L310.6,572.3 L310.5,570.6 L305.9,575.9 L312.8,574.6 L311.4,573.6 L313.7,572.2ZM285.0,586.4 L284.3,587.0 L283.9,585.5 L280.5,591.1 L286.6,588.9 L285.2,588.2 L286.0,587.6ZM337.5,613.7 L329.5,620.2 L329.1,618.6 L325.4,624.5 L332.0,622.1 L330.4,621.4 L338.5,614.9ZM272.9,647.8 L270.9,649.5 L270.4,647.8 L266.9,653.9 L273.4,651.3 L271.8,650.6 L273.9,648.8ZM290.5,672.9 L289.6,673.7 L289.2,672.0 L285.5,678.0 L292.1,675.6 L290.5,674.8 L291.5,674.1ZM421.4,524.6 L414.3,533.7 L413.5,532.2 L411.3,538.8 L417.2,535.0 L415.5,534.6 L422.6,525.4ZM373.2,569.8 L364.9,579.1 L364.2,577.5 L361.5,584.0 L367.6,580.6 L366.0,580.1 L374.2,570.8ZM412.8,579.0 L408.2,582.4 L407.8,580.7 L403.9,586.5 L410.6,584.4 L409.1,583.6 L413.6,580.2ZM395.1,587.8 L388.1,594.8 L387.4,593.2 L384.4,599.5 L390.7,596.5 L389.1,595.8 L396.1,588.8ZM478.2,599.5 L475.1,602.9 L474.4,601.4 L471.7,607.8 L477.8,604.4 L476.2,603.9 L479.2,600.5ZM431.3,630.4 L430.3,631.4 L429.8,629.7 L426.2,635.7 L432.7,633.2 L431.2,632.5 L432.3,631.6ZM402.9,658.0 L399.9,661.4 L399.2,659.8 L396.5,666.3 L402.6,662.9 L401.0,662.4 L403.9,659.0ZM479.0,660.6 L478.7,661.1 L478.2,660.2 L477.2,664.4 L480.8,662.1 L479.8,661.9 L480.2,661.4ZM556.6,543.7 L555.0,545.1 L554.5,543.4 L550.8,549.3 L557.4,547.0 L555.9,546.2 L557.6,544.9ZM532.7,568.6 L527.8,572.0 L527.5,570.3 L523.3,575.9 L530.0,574.1 L528.6,573.2 L533.5,569.8ZM642.1,565.2 L638.4,568.8 L637.8,567.2 L634.7,573.5 L641.0,570.5 L639.4,569.9 L643.1,566.2ZM664.5,590.5 L660.2,594.8 L659.6,593.2 L656.6,599.5 L662.9,596.4 L661.3,595.8 L665.5,591.5ZM632.3,609.2 L631.6,609.9 L631.1,608.4 L628.2,614.3 L634.1,611.4 L632.6,610.9 L633.3,610.2ZM533.2,658.8 L528.1,661.5 L528.0,659.8 L523.3,665.0 L530.2,663.8 L528.8,662.8 L533.8,660.0ZM587.5,566.0 L587.1,566.3 L586.8,565.4 L585.5,568.8 L589.0,567.8 L588.1,567.4 L588.5,567.0Z"/>
</g>
<rect x="64.6" y="78.5" width="600.0" height="599.9" fill="none" stroke="#000" stroke-width="1.1"/>
<line x1="59.4" y1="318.3" x2="64.6" y2="318.3" stroke="#000" stroke-width="1.1"/>
<line x1="424.5" y1="678.4" x2="424.5" y2="683.5" stroke="#000" stroke-width="1.1"/>
<text x="53" y="326.3" font-size="20.8" text-anchor="end">16°N</text>
<text x="424.3" y="703" font-size="20.8" text-anchor="middle">122°E</text>
<text x="364.4" y="33.5" font-size="34.7" text-anchor="middle">SO2 at 1.5km</text>
<text x="364.4" y="69.5" font-size="34.7" text-anchor="middle">Time: 2024-02-16 15:00:00</text>
<rect x="68.1" y="770.3" width="592.6" height="33.0" fill="url(#cb)"/>
<polygon points="38.9,786.8 68.1,770.3 68.6,770.3 68.6,803.3 68.1,803.3" fill="#fff7ec"/>
<polygon points="689.8,786.8 660.7,770.3 660.2,770.3 660.2,803.3 660.7,803.3" fill="#7f0000"/>
<polygon points="38.9,786.8 68.1,770.3 660.7,770.3 689.8,786.8 660.7,803.3 68.1,803.3" fill="none" stroke="#000" stroke-width="1.1"/>
<line x1="68.10" y1="803.3" x2="68.10" y2="808.5" stroke="#000" stroke-width="1.1"/>
<text x="68.10" y="825" font-size="16.67" text-anchor="middle">0.0</text>
<line x1="216.25" y1="803.3" x2="216.25" y2="808.5" stroke="#000" stroke-width="1.1"/>
<text x="216.25" y="825" font-size="16.67" text-anchor="middle">0.5</text>
<line x1="364.40" y1="803.3" x2="364.40" y2="808.5" stroke="#000" stroke-width="1.1"/>
<text x="364.40" y="825" font-size="16.67" text-anchor="middle">1.0</text>
<line x1="512.55" y1="803.3" x2="512.55" y2="808.5" stroke="#000" stroke-width="1.1"/>
<text x="512.55" y="825" font-size="16.67" text-anchor="middle">1.5</text>
<line x1="660.70" y1="803.3" x2="660.70" y2="808.5" stroke="#000" stroke-width="1.1"/>
<text x="660.70" y="825" font-size="16.67" text-anchor="middle">2.0</text>
<text x="701" y="786.8" font-size="20.8" font-weight="bold" font-style="italic">SO2 (ppbv)</text>
</svg></body></html>
